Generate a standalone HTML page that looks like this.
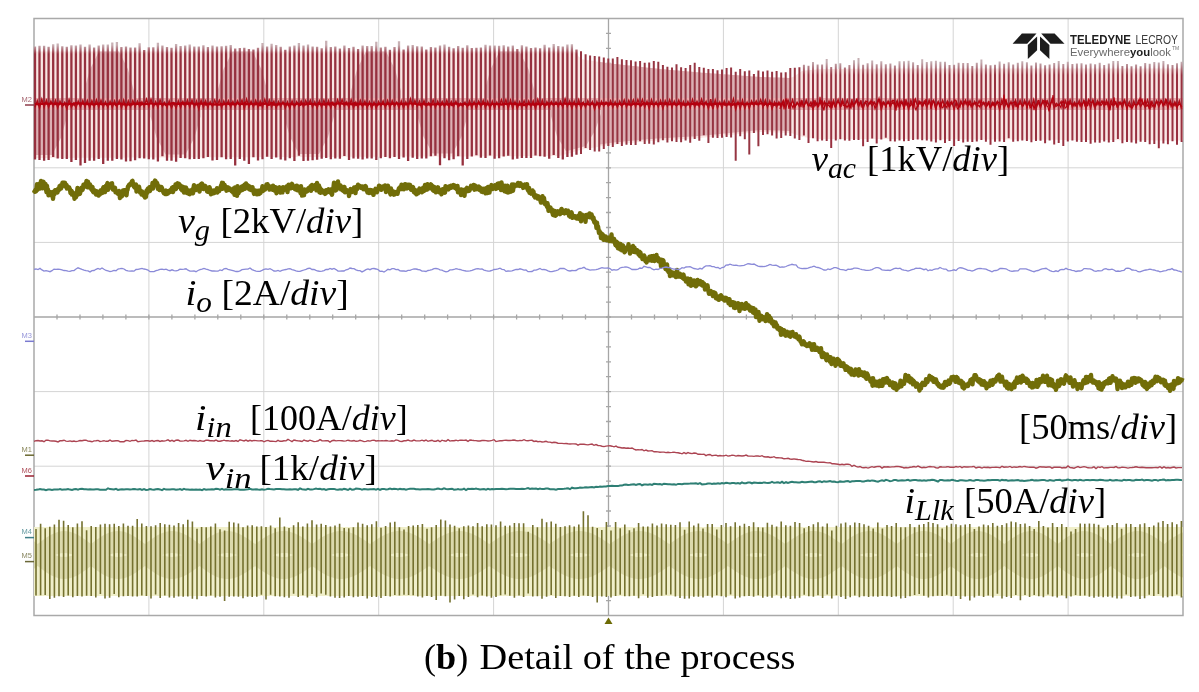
<!DOCTYPE html>
<html><head><meta charset="utf-8"><style>
html,body{margin:0;padding:0;background:#fff;width:1199px;height:692px;overflow:hidden;}
.l{position:absolute;font-family:"Liberation Serif",serif;color:#111;white-space:nowrap;line-height:1;}
.l i{font-style:italic;}
.l sub{font-style:italic;font-size:0.78em;vertical-align:baseline;position:relative;}
</style></head><body>
<svg width="1199" height="692" viewBox="0 0 1199 692" style="position:absolute;left:0;top:0;will-change:transform"><g stroke="#d4d4d4" stroke-width="1"><line x1="148.9" y1="18.5" x2="148.9" y2="615.5"/><line x1="263.8" y1="18.5" x2="263.8" y2="615.5"/><line x1="378.7" y1="18.5" x2="378.7" y2="615.5"/><line x1="493.6" y1="18.5" x2="493.6" y2="615.5"/><line x1="723.4" y1="18.5" x2="723.4" y2="615.5"/><line x1="838.3" y1="18.5" x2="838.3" y2="615.5"/><line x1="953.2" y1="18.5" x2="953.2" y2="615.5"/><line x1="1068.1" y1="18.5" x2="1068.1" y2="615.5"/><line x1="34.0" y1="93.1" x2="1183.0" y2="93.1"/><line x1="34.0" y1="167.8" x2="1183.0" y2="167.8"/><line x1="34.0" y1="242.4" x2="1183.0" y2="242.4"/><line x1="34.0" y1="391.6" x2="1183.0" y2="391.6"/><line x1="34.0" y1="466.2" x2="1183.0" y2="466.2"/><line x1="34.0" y1="540.9" x2="1183.0" y2="540.9"/></g><g stroke="#a6a6a6" stroke-width="1.3"><line x1="608.5" y1="18.5" x2="608.5" y2="615.5"/><line x1="34.0" y1="317.0" x2="1183.0" y2="317.0"/><path d="M606.0 33.4h5M606.0 48.4h5M606.0 63.3h5M606.0 78.2h5M606.0 93.1h5M606.0 108.1h5M606.0 123.0h5M606.0 137.9h5M606.0 152.8h5M606.0 167.8h5M606.0 182.7h5M606.0 197.6h5M606.0 212.5h5M606.0 227.5h5M606.0 242.4h5M606.0 257.3h5M606.0 272.2h5M606.0 287.2h5M606.0 302.1h5M606.0 317.0h5M606.0 331.9h5M606.0 346.9h5M606.0 361.8h5M606.0 376.7h5M606.0 391.6h5M606.0 406.6h5M606.0 421.5h5M606.0 436.4h5M606.0 451.3h5M606.0 466.2h5M606.0 481.2h5M606.0 496.1h5M606.0 511.0h5M606.0 526.0h5M606.0 540.9h5M606.0 555.8h5M606.0 570.7h5M606.0 585.6h5M606.0 600.6h5M57.0 314.5v5M80.0 314.5v5M102.9 314.5v5M125.9 314.5v5M148.9 314.5v5M171.9 314.5v5M194.9 314.5v5M217.8 314.5v5M240.8 314.5v5M263.8 314.5v5M286.8 314.5v5M309.8 314.5v5M332.7 314.5v5M355.7 314.5v5M378.7 314.5v5M401.7 314.5v5M424.7 314.5v5M447.6 314.5v5M470.6 314.5v5M493.6 314.5v5M516.6 314.5v5M539.6 314.5v5M562.5 314.5v5M585.5 314.5v5M608.5 314.5v5M631.5 314.5v5M654.5 314.5v5M677.4 314.5v5M700.4 314.5v5M723.4 314.5v5M746.4 314.5v5M769.4 314.5v5M792.3 314.5v5M815.3 314.5v5M838.3 314.5v5M861.3 314.5v5M884.3 314.5v5M907.2 314.5v5M930.2 314.5v5M953.2 314.5v5M976.2 314.5v5M999.2 314.5v5M1022.1 314.5v5M1045.1 314.5v5M1068.1 314.5v5M1091.1 314.5v5M1114.1 314.5v5M1137.0 314.5v5M1160.0 314.5v5"/></g><rect x="34.0" y="18.5" width="1149.0" height="597.0" fill="none" stroke="#a9a9a9" stroke-width="1.5"/><path fill="#f9e6e4" d="M34.0 51.5L38.0 51.5L42.0 51.5L46.0 51.5L50.0 51.5L54.0 51.5L58.0 51.5L62.0 51.5L66.0 51.5L70.0 51.5L74.0 51.5L78.0 51.5L82.0 51.5L86.0 51.5L90.0 51.5L94.0 51.5L98.0 51.5L102.0 51.5L106.0 51.5L110.0 51.5L114.0 51.5L118.0 51.5L122.0 51.5L126.0 51.5L130.0 51.5L134.0 51.5L138.0 51.5L142.0 51.5L146.0 51.5L150.0 51.5L154.0 51.5L158.0 51.5L162.0 51.5L166.0 51.5L170.0 51.5L174.0 51.5L178.0 51.5L182.0 51.5L186.0 51.5L190.0 51.5L194.0 51.5L198.0 51.5L202.0 51.5L206.0 51.5L210.0 51.5L214.0 51.5L218.0 51.5L222.0 51.5L226.0 51.5L230.0 51.5L234.0 51.5L238.0 51.5L242.0 51.5L246.0 51.5L250.0 51.5L254.0 51.5L258.0 51.5L262.0 51.5L266.0 51.5L270.0 51.5L274.0 51.5L278.0 51.5L282.0 51.5L286.0 51.5L290.0 51.5L294.0 51.5L298.0 51.5L302.0 51.5L306.0 51.5L310.0 51.5L314.0 51.5L318.0 51.5L322.0 51.5L326.0 51.5L330.0 51.5L334.0 51.5L338.0 51.5L342.0 51.5L346.0 51.5L350.0 51.5L354.0 51.5L358.0 51.5L362.0 51.5L366.0 51.5L370.0 51.5L374.0 51.5L378.0 51.5L382.0 51.5L386.0 51.5L390.0 51.5L394.0 51.5L398.0 51.5L402.0 51.5L406.0 51.5L410.0 51.5L414.0 51.5L418.0 51.5L422.0 51.5L426.0 51.5L430.0 51.5L434.0 51.5L438.0 51.5L442.0 51.5L446.0 51.5L450.0 51.5L454.0 51.5L458.0 51.5L462.0 51.5L466.0 51.5L470.0 51.5L474.0 51.5L478.0 51.5L482.0 51.5L486.0 51.5L490.0 51.5L494.0 51.5L498.0 51.5L502.0 51.5L506.0 51.5L510.0 51.5L514.0 51.5L518.0 51.5L522.0 51.5L526.0 51.5L530.0 51.5L534.0 51.5L538.0 51.5L542.0 51.5L546.0 51.5L550.0 51.5L554.0 51.5L558.0 51.5L562.0 51.5L566.0 51.5L570.0 51.5L574.0 51.5L578.0 56.0L582.0 59.3L586.0 59.9L590.0 60.5L594.0 61.1L598.0 61.7L602.0 62.3L606.0 62.9L610.0 63.4L614.0 63.9L618.0 64.3L622.0 64.8L626.0 65.2L630.0 65.6L634.0 66.1L638.0 66.5L642.0 67.0L646.0 67.4L650.0 67.9L654.0 68.3L658.0 68.8L662.0 69.2L666.0 69.5L670.0 69.9L674.0 70.2L678.0 70.6L682.0 70.9L686.0 71.3L690.0 71.6L694.0 72.0L698.0 72.3L702.0 72.7L706.0 73.0L710.0 73.2L714.0 73.5L718.0 73.8L722.0 74.2L726.0 74.5L730.0 74.8L734.0 75.0L738.0 75.3L742.0 75.7L746.0 76.0L750.0 76.2L754.0 76.5L758.0 76.8L762.0 77.1L766.0 77.2L770.0 77.3L774.0 77.4L778.0 77.6L782.0 77.7L786.0 77.8L790.0 77.9L794.0 76.6L798.0 73.8L802.0 71.0L806.0 70.6L810.0 70.1L814.0 69.7L818.0 69.2L822.0 69.0L826.0 69.0L830.0 68.9L834.0 68.9L838.0 68.9L842.0 68.9L846.0 68.8L850.0 68.8L854.0 68.8L858.0 68.8L862.0 68.7L866.0 68.7L870.0 68.7L874.0 68.7L878.0 68.6L882.0 68.6L886.0 68.6L890.0 68.6L894.0 68.5L898.0 68.5L902.0 68.5L906.0 68.5L910.0 68.5L914.0 68.5L918.0 68.5L922.0 68.5L926.0 68.5L930.0 68.5L934.0 68.5L938.0 68.5L942.0 68.5L946.0 68.5L950.0 68.5L954.0 68.5L958.0 68.5L962.0 68.5L966.0 68.5L970.0 68.5L974.0 68.5L978.0 68.5L982.0 68.5L986.0 68.5L990.0 68.5L994.0 68.5L998.0 68.5L1002.0 68.5L1006.0 68.5L1010.0 68.5L1014.0 68.5L1018.0 68.5L1022.0 68.5L1026.0 68.5L1030.0 68.5L1034.0 68.5L1038.0 68.5L1042.0 68.5L1046.0 68.5L1050.0 68.5L1054.0 68.5L1058.0 68.5L1062.0 68.5L1066.0 68.5L1070.0 68.5L1074.0 68.5L1078.0 68.5L1082.0 68.5L1086.0 68.5L1090.0 68.5L1094.0 68.5L1098.0 68.5L1102.0 68.5L1106.0 68.5L1110.0 68.5L1114.0 68.5L1118.0 68.5L1122.0 68.5L1126.0 68.5L1130.0 68.5L1134.0 68.5L1138.0 68.5L1142.0 68.5L1146.0 68.5L1150.0 68.5L1154.0 68.5L1158.0 68.5L1162.0 68.5L1166.0 68.5L1170.0 68.5L1174.0 68.5L1178.0 68.5L1182.0 68.5L1183.0 140.5L1179.0 140.5L1175.0 140.5L1171.0 140.4L1167.0 140.4L1163.0 140.4L1159.0 140.4L1155.0 140.4L1151.0 140.3L1147.0 140.3L1143.0 140.3L1139.0 140.3L1135.0 140.2L1131.0 140.2L1127.0 140.2L1123.0 140.2L1119.0 140.2L1115.0 140.1L1111.0 140.1L1107.0 140.1L1103.0 140.1L1099.0 140.1L1095.0 140.0L1091.0 140.0L1087.0 140.0L1083.0 140.0L1079.0 139.9L1075.0 139.9L1071.0 139.9L1067.0 139.9L1063.0 139.9L1059.0 139.8L1055.0 139.8L1051.0 139.8L1047.0 139.8L1043.0 139.8L1039.0 139.7L1035.0 139.7L1031.0 139.7L1027.0 139.7L1023.0 139.7L1019.0 139.6L1015.0 139.6L1011.0 139.6L1007.0 139.6L1003.0 139.5L999.0 139.5L995.0 139.5L991.0 139.5L987.0 139.5L983.0 139.4L979.0 139.4L975.0 139.4L971.0 139.4L967.0 139.4L963.0 139.3L959.0 139.3L955.0 139.3L951.0 139.3L947.0 139.2L943.0 139.2L939.0 139.2L935.0 139.2L931.0 139.2L927.0 139.1L923.0 139.1L919.0 139.1L915.0 139.1L911.0 139.1L907.0 139.0L903.0 139.0L899.0 139.0L895.0 139.0L891.0 139.0L887.0 139.0L883.0 139.0L879.0 139.0L875.0 139.0L871.0 139.0L867.0 139.0L863.0 139.0L859.0 139.0L855.0 139.0L851.0 139.0L847.0 139.0L843.0 139.0L839.0 139.0L835.0 139.0L831.0 139.0L827.0 139.0L823.0 139.0L819.0 138.9L815.0 138.4L811.0 138.0L807.0 137.6L803.0 137.1L799.0 135.8L795.0 134.2L791.0 133.0L787.0 132.8L783.0 132.7L779.0 132.6L775.0 132.5L771.0 132.3L767.0 132.2L763.0 132.1L759.0 132.1L755.0 132.5L751.0 132.9L747.0 133.3L743.0 133.7L739.0 134.1L735.0 134.5L731.0 134.9L727.0 135.3L723.0 135.7L719.0 136.1L715.0 136.5L711.0 136.9L707.0 137.3L703.0 137.7L699.0 138.1L695.0 138.3L691.0 138.5L687.0 138.8L683.0 139.0L679.0 139.3L675.0 139.5L671.0 139.7L667.0 140.0L663.0 140.2L659.0 140.5L655.0 140.7L651.0 140.9L647.0 141.3L643.0 141.7L639.0 142.1L635.0 142.5L631.0 142.9L627.0 143.2L623.0 143.6L619.0 144.0L615.0 144.4L611.0 144.8L607.0 145.3L603.0 146.0L599.0 146.7L595.0 147.4L591.0 148.1L587.0 148.8L583.0 149.5L579.0 150.3L575.0 151.5L571.0 152.7L567.0 153.9L563.0 155.1L559.0 156.0L555.0 156.0L551.0 156.0L547.0 156.0L543.0 156.1L539.0 156.1L535.0 156.1L531.0 156.1L527.0 156.1L523.0 156.1L519.0 156.2L515.0 156.2L511.0 156.2L507.0 156.2L503.0 156.2L499.0 156.2L495.0 156.2L491.0 156.3L487.0 156.3L483.0 156.3L479.0 156.3L475.0 156.3L471.0 156.3L467.0 156.4L463.0 156.4L459.0 156.4L455.0 156.4L451.0 156.4L447.0 156.4L443.0 156.4L439.0 156.5L435.0 156.5L431.0 156.5L427.0 156.5L423.0 156.5L419.0 156.5L415.0 156.6L411.0 156.6L407.0 156.6L403.0 156.6L399.0 156.6L395.0 156.6L391.0 156.6L387.0 156.7L383.0 156.7L379.0 156.7L375.0 156.7L371.0 156.7L367.0 156.7L363.0 156.7L359.0 156.8L355.0 156.8L351.0 156.8L347.0 156.8L343.0 156.8L339.0 156.8L335.0 156.9L331.0 156.9L327.0 156.9L323.0 156.9L319.0 156.9L315.0 156.9L311.0 156.9L307.0 157.0L303.0 157.0L299.0 157.0L295.0 157.0L291.0 157.0L287.0 157.0L283.0 157.1L279.0 157.1L275.0 157.1L271.0 157.1L267.0 157.1L263.0 157.1L259.0 157.1L255.0 157.2L251.0 157.2L247.0 157.2L243.0 157.2L239.0 157.2L235.0 157.2L231.0 157.3L227.0 157.3L223.0 157.3L219.0 157.3L215.0 157.3L211.0 157.3L207.0 157.3L203.0 157.4L199.0 157.4L195.0 157.4L191.0 157.4L187.0 157.4L183.0 157.4L179.0 157.4L175.0 157.5L171.0 157.5L167.0 157.5L163.0 157.5L159.0 157.5L155.0 157.5L151.0 157.6L147.0 157.6L143.0 157.6L139.0 157.6L135.0 157.6L131.0 157.6L127.0 157.6L123.0 157.7L119.0 157.7L115.0 157.7L111.0 157.7L107.0 157.7L103.0 157.7L99.0 157.8L95.0 157.8L91.0 157.8L87.0 157.8L83.0 157.8L79.0 157.8L75.0 157.8L71.0 157.9L67.0 157.9L63.0 157.9L59.0 157.9L55.0 157.9L51.0 157.9L47.0 158.0L43.0 158.0L39.0 158.0L35.0 158.0Z"/><path fill="#dcb0b4" d="M84.0 104L84.0 90.9L90.0 69.2L99.0 51.5L119.0 51.5L128.0 69.2L134.0 90.9L134.0 104ZM34.0 104L34.0 116.8L34.0 137.8L34.0 155.0L52.0 154.9L61.0 137.7L67.0 116.7L67.0 104ZM217.5 104L217.5 90.9L223.5 69.2L232.5 51.5L252.5 51.5L261.5 69.2L267.5 90.9L267.5 104ZM150.5 104L150.5 116.6L156.5 137.5L165.5 154.5L185.5 154.4L194.5 137.4L200.5 116.6L200.5 104ZM351.0 104L351.0 90.9L357.0 69.2L366.0 51.5L386.0 51.5L395.0 69.2L401.0 90.9L401.0 104ZM284.0 104L284.0 116.5L290.0 137.1L299.0 154.0L319.0 153.9L328.0 137.0L334.0 116.5L334.0 104ZM484.5 104L484.5 90.9L490.5 69.2L499.5 51.5L519.5 51.5L528.5 69.2L534.5 90.9L534.5 104ZM417.5 104L417.5 116.4L423.5 136.8L432.5 153.5L452.5 153.4L461.5 136.7L467.5 116.3L467.5 104ZM551.0 104L551.0 116.3L557.0 136.5L566.0 151.2L586.0 146.0L595.0 130.8L601.0 113.8L601.0 104ZM600.0 62.0L602.0 62.3L604.0 62.6L606.0 62.9L608.0 63.2L610.0 63.4L612.0 63.6L614.0 63.9L616.0 64.1L618.0 64.3L620.0 64.5L622.0 64.8L624.0 65.0L626.0 65.2L628.0 65.4L630.0 65.6L632.0 65.9L634.0 66.1L636.0 66.3L638.0 66.5L640.0 66.8L642.0 67.0L644.0 67.2L646.0 67.4L648.0 67.7L650.0 67.9L652.0 68.1L654.0 68.3L656.0 68.6L658.0 68.8L660.0 69.0L662.0 69.2L664.0 69.3L666.0 69.5L668.0 69.7L670.0 69.9L672.0 70.0L674.0 70.2L676.0 70.4L678.0 70.6L680.0 70.8L682.0 70.9L684.0 71.1L686.0 71.3L688.0 71.5L690.0 71.6L692.0 71.8L694.0 72.0L696.0 72.2L698.0 72.3L700.0 72.5L702.0 72.7L704.0 72.8L706.0 73.0L708.0 73.1L710.0 73.2L712.0 73.4L714.0 73.5L716.0 73.7L718.0 73.8L720.0 74.0L722.0 74.2L724.0 74.3L726.0 74.5L728.0 74.6L730.0 74.8L732.0 74.9L734.0 75.0L736.0 75.2L738.0 75.3L740.0 75.5L742.0 75.7L744.0 75.8L746.0 76.0L748.0 76.1L750.0 76.2L752.0 76.4L754.0 76.5L756.0 76.7L758.0 76.8L760.0 77.0L762.0 77.1L764.0 77.1L766.0 77.2L768.0 77.2L770.0 77.3L772.0 77.4L774.0 77.4L776.0 77.5L778.0 77.6L780.0 77.6L782.0 77.7L784.0 77.8L786.0 77.8L788.0 77.9L790.0 77.9L790.0 130.9L788.0 130.9L786.0 130.8L784.0 130.8L782.0 130.7L780.0 130.6L778.0 130.6L776.0 130.5L774.0 130.4L772.0 130.4L770.0 130.3L768.0 130.2L766.0 130.2L764.0 130.1L762.0 130.1L760.0 130.0L758.0 130.2L756.0 130.4L754.0 130.6L752.0 130.8L750.0 131.0L748.0 131.2L746.0 131.4L744.0 131.6L742.0 131.8L740.0 132.0L738.0 132.2L736.0 132.4L734.0 132.6L732.0 132.8L730.0 133.0L728.0 133.2L726.0 133.4L724.0 133.6L722.0 133.8L720.0 134.0L718.0 134.2L716.0 134.4L714.0 134.6L712.0 134.8L710.0 135.0L708.0 135.2L706.0 135.4L704.0 135.6L702.0 135.8L700.0 136.0L698.0 136.1L696.0 136.2L694.0 136.4L692.0 136.5L690.0 136.6L688.0 136.7L686.0 136.8L684.0 137.0L682.0 137.1L680.0 137.2L678.0 137.3L676.0 137.4L674.0 137.6L672.0 137.7L670.0 137.8L668.0 137.9L666.0 138.0L664.0 138.2L662.0 138.3L660.0 138.4L658.0 138.5L656.0 138.6L654.0 138.8L652.0 138.9L650.0 139.0L648.0 139.2L646.0 139.4L644.0 139.6L642.0 139.8L640.0 140.0L638.0 140.2L636.0 140.4L634.0 140.6L632.0 140.8L630.0 141.0L628.0 141.1L626.0 141.3L624.0 141.5L622.0 141.7L620.0 141.9L618.0 142.1L616.0 142.3L614.0 142.5L612.0 142.7L610.0 142.9L608.0 143.2L606.0 143.5L604.0 143.9L602.0 144.2L600.0 144.6Z"/><rect x="34.0" y="98" width="1149.0" height="12" fill="#eeb0b2"/><defs><linearGradient id="gl" gradientUnits="userSpaceOnUse" x1="0" y1="45" x2="0" y2="54"><stop offset="0" stop-color="#c8b0b4"/><stop offset="1" stop-color="#96303e"/></linearGradient><linearGradient id="gr" gradientUnits="userSpaceOnUse" x1="0" y1="62" x2="0" y2="75"><stop offset="0" stop-color="#c4aeb2"/><stop offset="1" stop-color="#98303f"/></linearGradient></defs><path stroke="url(#gl)" stroke-width="2.3" fill="none" d="M35.0 46.5V159.6M39.5 45.8V160.1M44.1 45.7V160.7M48.6 46.7V159.9M53.2 44.3V156.9M57.7 43.6V158.5M62.3 46.2V159.0M66.8 46.7V159.1M71.4 45.2V162.1M75.9 45.6V160.0M80.5 44.5V165.4M85.0 46.7V163.0M89.6 44.6V160.7M94.1 47.6V160.8M98.7 45.4V159.0M103.2 44.6V164.0M107.8 44.4V160.8M112.3 42.6V160.8M116.9 42.1V159.0M121.4 47.1V159.4M126.0 46.5V161.6M130.5 47.6V161.3M135.1 47.4V160.2M139.6 43.2V158.2M144.2 50.1V158.6M148.8 47.3V159.2M153.3 47.3V159.4M157.9 42.7V161.4M162.4 45.6V156.3M167.0 47.1V160.8M171.5 47.7V160.7M176.1 44.0V161.8M180.6 46.1V157.9M185.2 45.6V158.2M189.7 44.5V159.2M194.3 46.5V158.9M198.8 46.5V158.9M203.4 45.2V158.3M207.9 47.0V157.0M212.5 45.5V160.5M217.0 46.6V160.0M221.6 46.3V157.3M226.1 45.7V159.2M230.7 44.9V159.0M235.2 48.4V165.4M239.8 48.0V159.0M244.3 47.8V160.7M248.9 48.9V164.1M253.4 49.5V157.3M258.0 47.8V160.5M262.5 43.1V159.2M267.1 46.6V156.7M271.6 43.7V159.0M276.2 44.9V157.5M280.7 46.8V159.6M285.3 49.7V160.5M289.8 46.5V158.3M294.4 45.6V160.9M298.9 43.0V155.8M303.5 45.4V161.1M308.0 44.6V160.8M312.6 46.5V160.2M317.1 46.8V159.7M321.7 48.3V158.7M326.2 40.7V158.1M330.8 47.1V159.3M335.3 46.6V158.4M339.9 48.4V158.8M344.4 45.6V155.9M349.0 48.0V159.9M353.5 46.8V158.5M358.1 48.9V158.7M362.6 45.5V159.6M367.2 45.9V158.6M371.7 45.9V158.4M376.3 41.8V160.1M380.8 47.4V158.2M385.4 46.8V157.1M389.9 49.7V158.3M394.5 47.0V156.9M399.0 41.2V159.0M403.6 49.6V157.6M408.1 45.5V160.9M412.7 45.0V157.8M417.2 46.2V159.0M421.8 46.4V158.4M426.3 49.5V158.6M430.9 47.1V156.2M435.4 47.6V155.7M440.0 45.4V165.2M444.5 44.6V158.2M449.1 46.7V160.2M453.6 48.2V159.2M458.2 45.9V156.3M462.7 47.8V165.6M467.3 45.2V159.0M471.8 48.1V156.4M476.4 47.8V155.3M480.9 47.5V157.7M485.5 44.7V158.0M490.0 45.5V155.6M494.6 45.4V158.8M499.1 45.7V158.2M503.7 45.2V156.6M508.2 46.4V155.7M512.8 45.5V159.5M517.3 48.9V158.8M521.9 45.3V157.9M526.4 46.4V158.0M531.0 48.0V158.0M535.5 47.5V155.5M540.1 48.3V156.3M544.6 44.7V156.8M549.2 47.4V158.7M553.7 43.9V155.1M558.3 46.0V158.0M562.8 46.6V159.5M567.4 44.4V157.1M571.9 44.3V156.7M576.5 49.5V154.7"/><path stroke="#963542" stroke-width="2.0" fill="none" d="M581.0 51.2V154.0M585.6 54.2V148.0M590.1 55.4V150.1M594.7 56.1V151.5M599.2 56.6V151.6M603.8 57.4V148.9M608.3 58.6V146.0M612.8 58.4V147.0M617.4 57.1V144.0M621.9 59.3V145.9M626.5 60.0V144.7M631.0 60.3V145.0M635.6 61.6V145.1M640.1 61.1V141.3M644.7 62.7V144.1M649.2 62.4V143.8M653.8 60.9V144.6M658.3 61.8V142.3M662.9 64.9V140.2M667.4 66.7V142.4M672.0 67.6V141.3M676.5 64.3V142.0M681.1 67.3V142.3M685.6 68.0V140.4M690.2 65.0V142.8M694.7 62.8V138.9M699.3 66.9V140.7M703.8 67.8V135.2M708.4 69.0V143.1M712.9 69.0V137.8M717.5 70.3V138.0M722.0 69.5V137.7M726.6 67.9V137.0M731.1 67.4V137.4M735.7 71.8V160.7M740.2 69.1V136.3M744.8 71.3V139.3M749.3 70.5V154.5M753.9 74.0V133.0M758.4 70.6V146.3M763.0 71.6V134.9M767.5 70.6V134.2M772.1 71.8V135.5M776.6 70.9V138.6M781.2 72.5V138.0M785.7 72.2V135.6M790.3 67.9V135.9M794.8 67.8V138.6M799.4 67.3V139.9"/><path stroke="url(#gr)" stroke-width="2.0" fill="none" d="M803.9 64.8V135.5M808.5 65.7V142.9M813.0 61.9V138.3M817.6 64.4V141.3M822.1 64.5V140.5M826.7 58.9V141.0M831.2 67.1V147.9M835.8 63.8V140.5M840.3 63.2V139.3M844.9 67.5V140.6M849.4 64.9V140.7M854.0 60.3V139.9M858.5 58.0V139.9M863.1 64.8V146.2M867.6 63.2V141.9M872.2 60.4V138.6M876.7 64.2V143.5M881.3 61.2V139.5M885.8 64.3V137.8M890.4 63.4V141.3M894.9 65.5V141.6M899.5 61.2V140.6M904.0 61.3V141.2M908.6 60.8V140.9M913.1 62.3V139.9M917.7 65.1V139.5M922.2 59.3V140.3M926.8 61.9V140.4M931.3 61.2V141.4M935.9 60.7V142.5M940.4 61.8V140.3M945.0 61.7V143.1M949.5 65.0V141.0M954.1 64.7V146.0M958.6 62.7V140.9M963.2 62.9V142.6M967.7 63.0V141.8M972.3 66.1V142.1M976.8 62.8V141.5M981.4 59.5V139.9M985.9 64.6V141.7M990.5 65.3V144.7M995.0 64.7V141.7M999.6 61.4V141.4M1004.1 63.8V142.0M1008.7 62.3V138.2M1013.2 64.6V141.7M1017.8 62.8V141.3M1022.3 61.3V140.6M1026.9 62.3V141.1M1031.4 65.4V142.3M1036.0 62.4V140.9M1040.5 63.6V140.8M1045.1 65.3V143.2M1049.6 64.4V140.5M1054.2 63.0V144.5M1058.7 61.0V143.0M1063.3 64.0V146.0M1067.8 61.8V141.5M1072.4 64.1V140.5M1076.9 63.5V141.7M1081.5 63.3V142.0M1086.0 64.4V142.1M1090.6 63.6V143.7M1095.1 64.2V142.6M1099.7 62.8V142.7M1104.2 65.0V141.5M1108.8 63.6V142.6M1113.3 61.0V142.1M1117.9 61.0V138.9M1122.4 66.0V143.2M1127.0 64.0V142.1M1131.5 66.3V142.4M1136.1 64.4V143.6M1140.6 66.3V141.8M1145.2 62.9V141.9M1149.7 63.7V144.2M1154.3 62.1V144.0M1158.8 62.4V148.2M1163.4 61.0V143.6M1167.9 64.3V144.3M1172.5 64.9V141.3M1177.0 63.3V144.8M1181.6 61.7V142.1"/><path stroke="#b00c18" stroke-width="1.5" fill="none" d="M35.0 107.2L37.3 100.8L39.5 107.9L41.8 99.3L44.1 107.0L46.4 100.4L48.6 107.1L50.9 101.2L53.2 106.3L55.5 100.5L57.7 107.6L60.0 101.3L62.3 106.5L64.6 102.6L66.8 108.8L69.1 99.8L71.4 107.2L73.7 103.0L76.0 107.6L78.2 101.2L80.5 106.8L82.8 100.6L85.1 106.8L87.3 100.6L89.6 107.6L91.9 100.7L94.2 106.6L96.4 100.0L98.7 107.0L101.0 100.3L103.3 106.9L105.5 101.8L107.8 107.3L110.1 101.4L112.4 107.3L114.6 101.0L116.9 106.9L119.2 100.8L121.5 107.6L123.7 100.1L126.0 108.1L128.3 101.0L130.6 106.4L132.8 100.6L135.1 106.5L137.4 101.1L139.7 106.4L141.9 101.9L144.2 106.4L146.5 99.2L148.8 106.4L151.0 99.4L153.3 107.0L155.6 101.8L157.9 107.5L160.1 99.9L162.4 106.4L164.7 102.4L167.0 107.3L169.2 101.0L171.5 107.8L173.8 103.0L176.1 108.0L178.3 101.1L180.6 107.3L182.9 101.5L185.2 106.5L187.4 100.2L189.7 107.0L192.0 100.2L194.3 107.0L196.5 101.1L198.8 108.9L201.1 100.3L203.4 106.9L205.6 100.9L207.9 107.3L210.2 101.8L212.5 106.6L214.7 100.3L217.0 105.7L219.3 100.3L221.6 107.4L223.8 101.0L226.1 106.2L228.4 100.7L230.7 107.0L232.9 101.4L235.2 106.5L237.5 100.8L239.8 105.5L242.0 100.1L244.3 108.3L246.6 99.2L248.9 106.7L251.1 101.2L253.4 106.7L255.7 100.4L258.0 107.0L260.2 101.0L262.5 106.9L264.8 99.5L267.1 106.9L269.3 100.3L271.6 106.6L273.9 101.2L276.2 107.5L278.4 101.7L280.7 106.6L283.0 101.7L285.3 107.9L287.5 101.9L289.8 108.1L292.1 100.9L294.4 106.9L296.6 101.7L298.9 105.9L301.2 101.2L303.4 106.6L305.7 100.7L308.0 105.6L310.3 100.3L312.5 107.0L314.8 101.7L317.1 107.8L319.4 100.9L321.6 106.8L323.9 100.3L326.2 107.3L328.5 100.8L330.7 107.5L333.0 102.4L335.3 107.0L337.6 99.8L339.8 106.3L342.1 99.8L344.4 106.0L346.7 102.0L348.9 107.2L351.2 99.8L353.5 107.5L355.8 102.0L358.0 106.7L360.3 100.5L362.6 106.7L364.9 101.2L367.1 107.5L369.4 101.9L371.7 108.0L374.0 101.9L376.2 108.1L378.5 101.5L380.8 105.8L383.1 100.9L385.3 107.3L387.6 100.7L389.9 107.7L392.2 100.7L394.4 106.3L396.7 102.2L399.0 107.5L401.3 101.2L403.5 107.7L405.8 101.9L408.1 107.3L410.4 99.0L412.6 106.5L414.9 100.6L417.2 106.2L419.5 101.2L421.7 108.0L424.0 100.6L426.3 106.1L428.6 102.6L430.8 106.6L433.1 100.0L435.4 107.2L437.7 101.3L439.9 106.4L442.2 101.6L444.5 106.6L446.8 100.3L449.0 107.1L451.3 101.6L453.6 106.5L455.9 101.3L458.1 106.9L460.4 103.3L462.7 106.4L465.0 102.1L467.2 107.0L469.5 100.9L471.8 107.6L474.1 101.7L476.3 108.0L478.6 101.3L480.9 106.5L483.2 100.6L485.4 107.4L487.7 101.5L490.0 108.1L492.3 101.3L494.5 107.8L496.8 102.2L499.1 107.1L501.4 99.8L503.6 106.1L505.9 99.8L508.2 108.3L510.5 100.3L512.7 108.0L515.0 101.5L517.3 108.4L519.6 101.8L521.8 106.9L524.1 100.8L526.4 107.1L528.7 101.1L530.9 106.6L533.2 101.0L535.5 108.3L537.8 99.6L540.0 107.2L542.3 100.3L544.6 107.1L546.9 101.7L549.1 107.0L551.4 101.6L553.7 105.7L556.0 101.9L558.2 106.5L560.5 101.5L562.8 107.1L565.1 98.9L567.3 106.4L569.6 101.2L571.9 108.2L574.2 101.2L576.4 107.2L578.7 99.9L581.0 108.1L583.3 102.4L585.5 107.0L587.8 100.8L590.1 105.7L592.4 101.7L594.6 109.2L596.9 101.6L599.2 108.0L601.5 101.4L603.7 106.2L606.0 102.1L608.3 106.0L610.6 100.8L612.8 107.2L615.1 101.7L617.4 107.3L619.7 101.3L621.9 106.4L624.2 100.0L626.5 107.0L628.8 100.4L631.0 106.0L633.3 100.0L635.6 106.6L637.9 99.5L640.1 105.9L642.4 99.7L644.7 107.1L647.0 101.3L649.2 108.6L651.5 99.8L653.8 106.5L656.1 101.7L658.3 106.8L660.6 100.7L662.9 108.4L665.2 100.7L667.4 106.1L669.7 99.9L672.0 107.3L674.3 101.2L676.5 105.9L678.8 100.2L681.1 107.4L683.4 101.5L685.6 106.5L687.9 101.5L690.2 107.5L692.5 99.6L694.7 106.8L697.0 101.3L699.3 106.5L701.6 99.3L703.8 106.8L706.1 101.6L708.4 108.3L710.7 99.2L712.9 109.1L715.2 100.1L717.5 107.8L719.8 102.0L722.0 107.8L724.3 101.1L726.6 106.1L728.9 101.5L731.1 106.4L733.4 99.0L735.7 109.3L738.0 101.6L740.2 108.5L742.5 100.3L744.8 108.2L747.1 102.3L749.3 108.2L751.6 101.0L753.9 106.0L756.2 100.9L758.4 105.2L760.7 99.6L763.0 107.1L765.3 100.2L767.5 106.9L769.8 100.9L772.1 108.5L774.4 102.0L776.6 107.0L778.9 102.0L781.2 106.4L783.5 100.7L785.7 107.7L788.0 100.0L790.3 106.8L792.6 99.9L794.8 107.1L797.1 102.3L799.4 106.4L801.7 101.2L803.9 106.3L806.2 100.1L808.5 106.0L810.8 102.2L813.0 108.9L815.3 101.4L817.6 106.4L819.9 101.6L822.1 106.7L824.4 101.6L826.7 107.2L829.0 101.2L831.2 107.5L833.5 100.5L835.8 106.7L838.1 99.6L840.3 106.6L842.6 99.9L844.9 106.9L847.2 100.2L849.4 107.1L851.7 101.4L854.0 105.9L856.3 100.3L858.5 106.2L860.8 101.6L863.1 108.4L865.4 101.7L867.6 106.7L869.9 102.2L872.2 105.8L874.5 102.2L876.7 106.5L879.0 98.8L881.3 109.1L883.6 102.3L885.8 106.2L888.1 101.1L890.4 106.8L892.7 101.1L894.9 105.8L897.2 100.5L899.5 107.4L901.8 101.2L904.0 108.0L906.3 101.1L908.6 108.9L910.9 100.4L913.1 107.2L915.4 99.5L917.7 106.0L920.0 102.1L922.2 106.2L924.5 101.4L926.8 107.0L929.1 100.2L931.3 106.7L933.6 100.6L935.9 106.6L938.2 101.6L940.4 107.5L942.7 100.5L945.0 106.3L947.3 101.2L949.5 106.9L951.8 101.8L954.1 109.1L956.4 101.7L958.6 107.0L960.9 100.9L963.2 106.3L965.5 100.3L967.7 106.2L970.0 100.7L972.3 106.7L974.6 101.6L976.8 106.7L979.1 100.8L981.4 106.0L983.7 102.3L985.9 107.4L988.2 102.4L990.5 107.6L992.8 102.2L995.0 106.8L997.3 101.6L999.6 109.2L1001.9 100.0L1004.1 107.9L1006.4 102.4L1008.7 107.3L1011.0 101.6L1013.2 108.0L1015.5 100.5L1017.8 107.3L1020.1 100.3L1022.3 106.4L1024.6 100.5L1026.9 106.9L1029.2 101.1L1031.4 107.4L1033.7 99.8L1036.0 108.6L1038.3 101.9L1040.5 107.6L1042.8 100.7L1045.1 106.9L1047.4 101.4L1049.6 107.3L1051.9 99.6L1054.2 107.6L1056.5 103.4L1058.7 105.5L1061.0 101.8L1063.3 107.3L1065.6 100.9L1067.8 108.1L1070.1 100.0L1072.4 107.1L1074.7 102.2L1076.9 106.8L1079.2 100.7L1081.5 107.1L1083.8 100.6L1086.0 108.3L1088.3 100.3L1090.6 107.7L1092.9 100.0L1095.1 107.6L1097.4 100.9L1099.7 104.9L1102.0 101.0L1104.2 106.1L1106.5 100.6L1108.8 108.3L1111.1 100.1L1113.3 106.1L1115.6 102.2L1117.9 107.1L1120.2 102.3L1122.4 107.3L1124.7 100.3L1127.0 106.9L1129.3 102.0L1131.5 107.8L1133.8 101.0L1136.1 107.0L1138.4 100.9L1140.6 106.5L1142.9 102.6L1145.2 107.0L1147.5 100.1L1149.7 106.6L1152.0 101.6L1154.3 107.5L1156.6 100.9L1158.8 106.5L1161.1 101.0L1163.4 105.6L1165.7 99.9L1167.9 107.7L1170.2 100.6L1172.5 107.3L1174.8 102.0L1177.0 107.5L1179.3 101.0L1181.6 108.8"/><path stroke="#b4000e" stroke-width="2.2" fill="none" d="M35.0 104.3L36.5 103.8L38.0 104.4L39.5 104.2L41.0 103.6L42.5 104.0L44.0 103.9L45.5 103.0L47.0 103.9L48.5 103.9L50.0 103.8L51.5 103.2L53.0 103.8L54.5 104.0L56.0 104.1L57.5 103.4L59.0 104.3L60.5 103.4L62.0 103.9L63.5 104.7L65.0 103.6L66.5 103.7L68.0 104.6L69.5 103.8L71.0 103.8L72.5 104.1L74.0 104.5L75.5 102.9L77.0 103.6L78.5 103.5L80.0 103.4L81.5 103.6L83.0 103.6L84.5 104.2L86.0 103.5L87.5 104.1L89.0 104.2L90.5 103.6L92.0 104.1L93.5 104.8L95.0 104.2L96.5 103.7L98.0 104.0L99.5 103.5L101.0 104.1L102.5 104.4L104.0 103.6L105.5 103.9L107.0 104.6L108.5 103.7L110.0 104.1L111.5 103.5L113.0 103.6L114.5 103.7L116.0 105.1L117.5 103.8L119.0 103.7L120.5 103.7L122.0 103.9L123.5 104.3L125.0 104.1L126.5 105.0L128.0 104.1L129.5 104.7L131.0 104.1L132.5 104.3L134.0 103.3L135.5 103.9L137.0 104.0L138.5 103.9L140.0 102.9L141.5 104.4L143.0 103.8L144.5 103.8L146.0 103.9L147.5 103.9L149.0 104.2L150.5 103.4L152.0 103.5L153.5 104.1L155.0 104.1L156.5 103.8L158.0 103.7L159.5 103.6L161.0 104.0L162.5 104.6L164.0 103.5L165.5 104.8L167.0 104.4L168.5 103.8L170.0 104.4L171.5 103.3L173.0 103.1L174.5 103.4L176.0 103.8L177.5 103.8L179.0 103.7L180.5 104.0L182.0 102.9L183.5 104.2L185.0 103.3L186.5 103.7L188.0 103.8L189.5 103.4L191.0 103.3L192.5 103.5L194.0 104.0L195.5 104.3L197.0 104.3L198.5 103.5L200.0 103.6L201.5 103.5L203.0 104.2L204.5 103.0L206.0 104.6L207.5 103.8L209.0 103.6L210.5 104.2L212.0 104.5L213.5 104.2L215.0 104.5L216.5 104.1L218.0 104.6L219.5 104.6L221.0 104.0L222.5 104.7L224.0 104.1L225.5 104.0L227.0 103.5L228.5 103.9L230.0 104.4L231.5 103.3L233.0 104.3L234.5 104.2L236.0 104.1L237.5 102.9L239.0 103.9L240.5 104.3L242.0 103.6L243.5 104.0L245.0 102.8L246.5 104.3L248.0 103.7L249.5 104.4L251.0 103.1L252.5 104.3L254.0 103.9L255.5 104.4L257.0 103.5L258.5 103.7L260.0 105.1L261.5 103.6L263.0 103.6L264.5 103.9L266.0 103.5L267.5 104.6L269.0 104.9L270.5 103.6L272.0 103.1L273.5 104.6L275.0 104.6L276.5 104.4L278.0 104.6L279.5 103.6L281.0 103.9L282.5 103.3L284.0 103.3L285.5 104.5L287.0 103.7L288.5 105.1L290.0 104.0L291.5 103.7L293.0 104.4L294.5 104.9L296.0 104.2L297.5 103.4L299.0 104.2L300.5 104.7L302.0 103.8L303.5 103.6L305.0 104.5L306.5 104.1L308.0 103.4L309.5 103.8L311.0 103.6L312.5 104.1L314.0 104.1L315.5 104.6L317.0 104.4L318.5 103.2L320.0 104.2L321.5 104.4L323.0 104.2L324.5 104.5L326.0 103.7L327.5 103.5L329.0 104.5L330.5 103.5L332.0 102.9L333.5 104.5L335.0 103.6L336.5 103.8L338.0 103.3L339.5 103.3L341.0 103.4L342.5 103.8L344.0 104.2L345.5 102.9L347.0 104.4L348.5 103.4L350.0 103.5L351.5 104.3L353.0 104.0L354.5 103.2L356.0 104.9L357.5 103.6L359.0 104.1L360.5 104.1L362.0 104.7L363.5 103.8L365.0 104.5L366.5 103.6L368.0 104.6L369.5 103.6L371.0 103.8L372.5 104.9L374.0 104.2L375.5 104.1L377.0 105.1L378.5 104.2L380.0 103.6L381.5 104.4L383.0 103.4L384.5 104.6L386.0 104.6L387.5 103.7L389.0 103.7L390.5 104.1L392.0 104.0L393.5 103.5L395.0 104.3L396.5 103.0L398.0 103.8L399.5 103.8L401.0 103.9L402.5 104.2L404.0 103.4L405.5 104.3L407.0 103.9L408.5 103.7L410.0 103.3L411.5 103.4L413.0 104.2L414.5 103.5L416.0 104.0L417.5 104.5L419.0 104.5L420.5 104.8L422.0 103.9L423.5 103.5L425.0 104.5L426.5 104.2L428.0 104.6L429.5 104.0L431.0 104.6L432.5 104.4L434.0 104.4L435.5 104.3L437.0 104.2L438.5 104.1L440.0 104.1L441.5 104.5L443.0 103.7L444.5 104.9L446.0 103.9L447.5 104.5L449.0 104.0L450.5 103.9L452.0 105.0L453.5 103.8L455.0 103.4L456.5 103.6L458.0 103.8L459.5 105.1L461.0 104.1L462.5 104.5L464.0 103.5L465.5 104.2L467.0 104.3L468.5 104.9L470.0 103.7L471.5 104.3L473.0 104.2L474.5 103.5L476.0 104.0L477.5 103.9L479.0 102.8L480.5 104.3L482.0 104.3L483.5 103.8L485.0 103.3L486.5 104.7L488.0 104.1L489.5 104.5L491.0 104.7L492.5 103.7L494.0 104.4L495.5 103.9L497.0 104.0L498.5 104.0L500.0 104.0L501.5 104.6L503.0 104.1L504.5 103.9L506.0 103.9L507.5 104.2L509.0 103.6L510.5 103.7L512.0 104.0L513.5 103.7L515.0 103.9L516.5 103.7L518.0 105.0L519.5 104.7L521.0 104.2L522.5 104.0L524.0 105.1L525.5 104.2L527.0 104.0L528.5 104.2L530.0 104.2L531.5 104.7L533.0 104.0L534.5 105.0L536.0 103.6L537.5 104.3L539.0 103.5L540.5 104.9L542.0 103.8L543.5 104.0L545.0 104.5L546.5 104.6L548.0 103.4L549.5 103.8L551.0 103.3L552.5 104.1L554.0 103.9L555.5 103.8L557.0 103.7L558.5 103.8L560.0 103.6L561.5 104.3L563.0 104.8L564.5 103.0L566.0 103.9L567.5 103.8L569.0 104.2L570.5 103.5L572.0 103.9L573.5 103.5L575.0 104.3L576.5 104.0L578.0 103.9L579.5 104.2L581.0 103.9L582.5 103.2L584.0 104.3L585.5 104.1L587.0 103.9L588.5 104.5L590.0 104.6L591.5 103.5L593.0 103.6L594.5 104.8L596.0 104.7L597.5 103.6L599.0 103.4L600.5 103.7L602.0 103.8L603.5 103.2L605.0 104.0L606.5 103.4L608.0 103.4L609.5 104.5L611.0 103.7L612.5 104.0L614.0 104.3L615.5 104.4L617.0 103.8L618.5 104.0L620.0 103.6L621.5 104.9L623.0 104.3L624.5 103.4L626.0 104.0L627.5 104.4L629.0 104.2L630.5 104.9L632.0 104.7L633.5 103.7L635.0 104.0L636.5 103.4L638.0 104.1L639.5 104.1L641.0 105.4L642.5 104.0L644.0 103.0L645.5 103.7L647.0 104.1L648.5 103.4L650.0 103.6L651.5 103.8L653.0 104.2L654.5 103.9L656.0 103.6L657.5 104.4L659.0 103.7L660.5 103.8L662.0 103.3L663.5 103.6L665.0 104.3L666.5 103.2L668.0 104.0L669.5 104.4L671.0 103.8L672.5 104.1L674.0 103.4L675.5 104.7L677.0 104.6L678.5 104.1L680.0 103.1L681.5 103.5L683.0 104.5L684.5 104.9L686.0 104.1L687.5 104.6L689.0 103.7L690.5 103.9L692.0 104.0L693.5 104.2L695.0 103.2L696.5 104.5L698.0 104.7L699.5 103.4L701.0 103.3L702.5 104.2L704.0 103.7L705.5 102.8L707.0 104.4L708.5 104.1L710.0 103.8L711.5 105.1L713.0 104.1L714.5 103.6L716.0 104.1L717.5 103.5L719.0 103.6L720.5 104.2L722.0 103.7L723.5 103.8L725.0 104.8L726.5 104.4L728.0 104.4L729.5 104.3L731.0 104.2L732.5 104.7L734.0 104.0L735.5 104.9L737.0 103.5L738.5 103.9L740.0 103.3L741.5 103.8L743.0 104.3L744.5 104.7L746.0 103.7L747.5 104.0L749.0 103.8L750.5 103.6L752.0 103.4L753.5 104.0L755.0 103.1L756.5 104.1L758.0 104.0L759.5 103.7L761.0 103.5L762.5 103.3L764.0 104.9L765.5 103.3L767.0 104.8L768.5 104.3L770.0 103.8L771.5 103.4L773.0 104.5L774.5 104.9L776.0 103.5L777.5 103.9L779.0 104.5L780.5 104.2"/><path stroke="#b4000e" stroke-width="1.1" fill="none" d="M780.0 109.2L781.0 102.5L782.0 105.4L783.0 100.7L784.0 109.4L785.0 102.1L786.0 98.3L787.0 103.7L788.0 103.6L789.0 109.0L790.0 103.1L791.0 104.0L792.0 105.5L793.0 108.1L794.0 103.8L795.0 106.7L796.0 105.3L797.0 103.2L798.0 104.2L799.0 104.1L800.0 101.6L801.0 107.2L802.0 100.4L803.0 107.0L804.0 106.5L805.0 103.8L806.0 102.0L807.0 103.4L808.0 105.2L809.0 105.9L810.0 104.7L811.0 106.6L812.0 102.6L813.0 104.6L814.0 99.9L815.0 106.0L816.0 104.4L817.0 102.9L818.0 107.0L819.0 105.8L820.0 96.7L821.0 104.1L822.0 100.2L823.0 106.8L824.0 110.5L825.0 102.7L826.0 104.2L827.0 103.3L828.0 104.9L829.0 105.7L830.0 107.3L831.0 101.4L832.0 108.1L833.0 101.6L834.0 104.7L835.0 107.0L836.0 105.9L837.0 101.6L838.0 102.2L839.0 102.8L840.0 103.9L841.0 107.0L842.0 100.6L843.0 105.2L844.0 105.6L845.0 105.5L846.0 105.2L847.0 107.9L848.0 105.3L849.0 106.2L850.0 105.5L851.0 108.7L852.0 99.1L853.0 107.3L854.0 103.3L855.0 103.3L856.0 101.5L857.0 99.1L858.0 103.0L859.0 102.2L860.0 105.3L861.0 100.2L862.0 107.7L863.0 104.7L864.0 103.4L865.0 102.2L866.0 102.0L867.0 101.1L868.0 102.6L869.0 104.0L870.0 103.5L871.0 100.3L872.0 103.3L873.0 101.7L874.0 104.4L875.0 108.8L876.0 105.6L877.0 103.2L878.0 99.8L879.0 100.3L880.0 99.6L881.0 105.9L882.0 102.0L883.0 104.2L884.0 102.4L885.0 104.2L886.0 107.6L887.0 102.2L888.0 103.1L889.0 101.9L890.0 106.3L891.0 101.3L892.0 101.1L893.0 100.4L894.0 100.3L895.0 105.2L896.0 110.7L897.0 101.4L898.0 106.5L899.0 104.7L900.0 101.1L901.0 103.3L902.0 103.4L903.0 102.2L904.0 109.0L905.0 99.0L906.0 105.0L907.0 104.9L908.0 102.5L909.0 104.4L910.0 106.3L911.0 104.4L912.0 105.1L913.0 105.8L914.0 98.7L915.0 107.8L916.0 109.9L917.0 106.6L918.0 106.6L919.0 100.3L920.0 103.7L921.0 101.9L922.0 102.5L923.0 106.5L924.0 101.9L925.0 103.7L926.0 99.0L927.0 103.6L928.0 104.2L929.0 102.2L930.0 102.1L931.0 108.9L932.0 100.9L933.0 101.3L934.0 101.9L935.0 107.1L936.0 109.5L937.0 104.9L938.0 102.1L939.0 102.9L940.0 106.8L941.0 101.6L942.0 107.8L943.0 107.7L944.0 104.2L945.0 105.7L946.0 105.9L947.0 108.0L948.0 101.3L949.0 107.1L950.0 103.0L951.0 102.0L952.0 104.3L953.0 103.4L954.0 101.4L955.0 99.8L956.0 101.6L957.0 107.8L958.0 109.1L959.0 105.7L960.0 107.1L961.0 102.7L962.0 103.8L963.0 104.7L964.0 101.2L965.0 101.4L966.0 104.3L967.0 103.2L968.0 101.2L969.0 105.0L970.0 103.3L971.0 106.7L972.0 104.0L973.0 103.2L974.0 104.3L975.0 103.6L976.0 102.3L977.0 103.0L978.0 105.9L979.0 105.7L980.0 107.3L981.0 99.6L982.0 103.0L983.0 102.9L984.0 104.4L985.0 102.8L986.0 102.7L987.0 106.0L988.0 104.5L989.0 101.0L990.0 107.5L991.0 106.6L992.0 102.5L993.0 106.2L994.0 102.1L995.0 106.9L996.0 103.4L997.0 101.9L998.0 103.0L999.0 102.0L1000.0 104.5L1001.0 104.5L1002.0 104.1L1003.0 102.6L1004.0 94.5L1005.0 104.2L1006.0 99.1L1007.0 104.6L1008.0 106.9L1009.0 104.7L1010.0 103.0L1011.0 103.5L1012.0 103.7L1013.0 102.6L1014.0 102.5L1015.0 101.6L1016.0 107.1L1017.0 104.0L1018.0 106.5L1019.0 103.3L1020.0 104.2L1021.0 103.6L1022.0 105.2L1023.0 106.1L1024.0 104.6L1025.0 102.2L1026.0 102.0L1027.0 108.3L1028.0 103.3L1029.0 103.2L1030.0 107.8L1031.0 106.8L1032.0 105.4L1033.0 103.0L1034.0 110.1L1035.0 105.0L1036.0 105.4L1037.0 103.6L1038.0 100.3L1039.0 100.5L1040.0 105.1L1041.0 105.0L1042.0 103.4L1043.0 101.0L1044.0 100.3L1045.0 103.1L1046.0 100.2L1047.0 106.3L1048.0 107.0L1049.0 111.4L1050.0 106.3L1051.0 102.5L1052.0 101.7L1053.0 95.0L1054.0 102.5L1055.0 103.5L1056.0 106.5L1057.0 105.6L1058.0 105.5L1059.0 104.6L1060.0 105.7L1061.0 107.8L1062.0 101.2L1063.0 102.8L1064.0 100.4L1065.0 108.2L1066.0 107.4L1067.0 106.0L1068.0 100.9L1069.0 104.4L1070.0 103.4L1071.0 104.2L1072.0 103.5L1073.0 105.4L1074.0 103.0L1075.0 106.2L1076.0 104.6L1077.0 103.2L1078.0 103.7L1079.0 102.9L1080.0 106.1L1081.0 103.3L1082.0 104.8L1083.0 103.0L1084.0 100.1L1085.0 106.4L1086.0 101.2L1087.0 105.8L1088.0 105.1L1089.0 99.7L1090.0 101.5L1091.0 102.7L1092.0 101.9L1093.0 100.9L1094.0 105.9L1095.0 103.4L1096.0 105.0L1097.0 102.9L1098.0 104.8L1099.0 102.0L1100.0 103.9L1101.0 105.5L1102.0 104.1L1103.0 102.8L1104.0 101.2L1105.0 104.4L1106.0 104.9L1107.0 103.3L1108.0 102.0L1109.0 105.4L1110.0 110.5L1111.0 103.2L1112.0 104.9L1113.0 105.0L1114.0 97.3L1115.0 104.3L1116.0 102.2L1117.0 107.6L1118.0 103.3L1119.0 102.0L1120.0 103.4L1121.0 104.4L1122.0 102.5L1123.0 103.9L1124.0 100.5L1125.0 103.4L1126.0 106.0L1127.0 109.1L1128.0 105.8L1129.0 104.7L1130.0 107.1L1131.0 106.6L1132.0 108.3L1133.0 106.8L1134.0 103.7L1135.0 104.7L1136.0 104.5L1137.0 104.8L1138.0 104.5L1139.0 102.0L1140.0 98.5L1141.0 102.3L1142.0 98.7L1143.0 104.2L1144.0 104.0L1145.0 99.6L1146.0 105.8L1147.0 106.3L1148.0 104.2L1149.0 108.3L1150.0 108.9L1151.0 100.9L1152.0 106.7L1153.0 105.1L1154.0 105.1L1155.0 106.4L1156.0 102.1L1157.0 102.5L1158.0 101.9L1159.0 102.0L1160.0 103.7L1161.0 100.2L1162.0 101.3L1163.0 105.5L1164.0 103.8L1165.0 105.0L1166.0 99.1L1167.0 102.0L1168.0 102.6L1169.0 104.1L1170.0 102.5L1171.0 106.4L1172.0 103.8L1173.0 104.0L1174.0 104.0L1175.0 105.8L1176.0 102.8L1177.0 106.9L1178.0 105.2L1179.0 104.4L1180.0 104.1L1181.0 105.4L1182.0 106.6"/><path stroke="#716d08" stroke-width="4.4" stroke-linejoin="round" fill="none" d="M34.0 192.9L34.5 191.3L35.0 191.7L35.5 189.8L36.0 191.3L36.5 188.5L37.0 184.3L37.5 189.9L38.0 187.2L38.5 184.3L39.0 185.6L39.5 183.8L40.0 188.6L40.5 185.2L41.0 181.0L41.5 184.7L42.0 183.5L42.5 188.2L43.0 183.4L43.5 181.8L44.0 186.4L44.5 186.2L45.0 186.6L45.5 184.0L46.0 189.2L46.5 192.0L47.0 186.0L47.5 192.1L48.0 189.5L48.5 195.3L49.0 192.4L49.5 191.8L50.0 194.6L50.5 194.1L51.0 192.6L51.5 195.5L52.0 193.8L52.5 192.0L53.0 198.8L53.5 194.0L54.0 193.0L54.5 194.2L55.0 190.2L55.5 190.1L56.0 191.1L56.5 190.5L57.0 191.1L57.5 192.4L58.0 189.0L58.5 190.2L59.0 189.9L59.5 186.3L60.0 188.2L60.5 185.5L61.0 188.6L61.5 187.0L62.0 185.7L62.5 182.7L63.0 184.8L63.5 182.7L64.0 184.8L64.5 183.6L65.0 182.9L65.5 186.6L66.0 186.7L66.5 184.9L67.0 188.6L67.5 186.5L68.0 187.0L68.5 188.3L69.0 187.2L69.5 188.3L70.0 189.4L70.5 192.9L71.0 193.4L71.5 190.8L72.0 194.6L72.5 192.2L73.0 193.5L73.5 194.9L74.0 194.4L74.5 198.7L75.0 195.3L75.5 193.3L76.0 197.2L76.5 193.6L77.0 193.3L77.5 187.9L78.0 194.6L78.5 193.7L79.0 193.2L79.5 193.0L80.0 193.7L80.5 190.1L81.0 191.3L81.5 187.8L82.0 187.9L82.5 189.9L83.0 188.2L83.5 184.6L84.0 187.1L84.5 185.6L85.0 183.9L85.5 185.7L86.0 183.6L86.5 181.0L87.0 181.5L87.5 187.2L88.0 181.8L88.5 185.5L89.0 186.7L89.5 187.3L90.0 184.5L90.5 186.6L91.0 188.0L91.5 189.7L92.0 187.6L92.5 187.2L93.0 191.6L93.5 192.3L94.0 191.5L94.5 190.3L95.0 192.6L95.5 192.6L96.0 194.5L96.5 191.2L97.0 194.2L97.5 194.3L98.0 193.1L98.5 195.6L99.0 194.7L99.5 193.4L100.0 194.3L100.5 190.5L101.0 192.4L101.5 192.8L102.0 192.0L102.5 192.9L103.0 188.3L103.5 187.2L104.0 189.8L104.5 189.7L105.0 192.1L105.5 188.9L106.0 185.7L106.5 188.2L107.0 184.7L107.5 183.0L108.0 189.8L108.5 185.2L109.0 185.4L109.5 184.6L110.0 186.9L110.5 184.7L111.0 186.9L111.5 183.4L112.0 183.3L112.5 188.9L113.0 189.5L113.5 188.3L114.0 188.3L114.5 188.7L115.0 187.7L115.5 192.2L116.0 191.2L116.5 191.4L117.0 191.7L117.5 193.4L118.0 193.0L118.5 193.9L119.0 191.0L119.5 194.6L120.0 198.1L120.5 193.8L121.0 195.0L121.5 196.5L122.0 196.1L122.5 195.0L123.0 190.4L123.5 193.7L124.0 190.1L124.5 190.3L125.0 192.2L125.5 190.2L126.0 191.6L126.5 195.3L127.0 190.5L127.5 189.9L128.0 186.4L128.5 186.4L129.0 185.1L129.5 185.5L130.0 184.0L130.5 184.2L131.0 184.5L131.5 182.6L132.0 181.3L132.5 180.9L133.0 184.7L133.5 184.5L134.0 186.7L134.5 187.3L135.0 185.3L135.5 187.7L136.0 184.4L136.5 191.6L137.0 190.2L137.5 188.2L138.0 187.0L138.5 190.3L139.0 186.8L139.5 189.3L140.0 192.5L140.5 191.9L141.0 191.4L141.5 194.5L142.0 191.4L142.5 194.3L143.0 193.5L143.5 193.3L144.0 196.0L144.5 192.9L145.0 197.6L145.5 192.6L146.0 196.7L146.5 190.6L147.0 193.1L147.5 189.3L148.0 188.6L148.5 190.7L149.0 191.1L149.5 187.1L150.0 191.0L150.5 186.9L151.0 188.0L151.5 188.0L152.0 187.8L152.5 183.0L153.0 188.6L153.5 186.2L154.0 183.9L154.5 182.3L155.0 180.5L155.5 181.0L156.0 185.0L156.5 183.9L157.0 183.0L157.5 184.6L158.0 188.9L158.5 186.0L159.0 186.1L159.5 190.1L160.0 189.0L160.5 188.8L161.0 188.2L161.5 187.0L162.0 188.2L162.5 190.0L163.0 191.0L163.5 192.5L164.0 193.4L164.5 193.3L165.0 193.9L165.5 192.2L166.0 190.6L166.5 194.1L167.0 193.2L167.5 193.2L168.0 193.4L168.5 191.1L169.0 190.8L169.5 192.1L170.0 192.0L170.5 190.1L171.0 191.6L171.5 189.8L172.0 187.8L172.5 189.2L173.0 192.0L173.5 186.9L174.0 189.7L174.5 189.5L175.0 189.2L175.5 184.5L176.0 189.1L176.5 185.1L177.0 183.9L177.5 183.4L178.0 184.4L178.5 183.7L179.0 183.9L179.5 187.0L180.0 185.8L180.5 185.5L181.0 189.1L181.5 189.2L182.0 190.2L182.5 186.6L183.0 190.7L183.5 189.9L184.0 192.5L184.5 187.4L185.0 190.3L185.5 189.7L186.0 187.6L186.5 189.4L187.0 193.0L187.5 190.4L188.0 190.3L188.5 193.4L189.0 193.9L189.5 194.2L190.0 190.7L190.5 191.7L191.0 193.4L191.5 190.1L192.0 189.7L192.5 192.2L193.0 193.2L193.5 188.1L194.0 185.2L194.5 187.0L195.0 187.5L195.5 188.8L196.0 189.9L196.5 188.2L197.0 186.9L197.5 188.2L198.0 185.9L198.5 187.3L199.0 185.9L199.5 191.6L200.0 188.0L200.5 184.7L201.0 184.2L201.5 185.5L202.0 183.6L202.5 185.6L203.0 185.8L203.5 189.0L204.0 187.0L204.5 186.6L205.0 185.9L205.5 186.4L206.0 188.7L206.5 188.7L207.0 191.4L207.5 188.5L208.0 191.9L208.5 190.7L209.0 190.5L209.5 187.2L210.0 188.8L210.5 192.7L211.0 194.2L211.5 192.3L212.0 193.6L212.5 191.5L213.0 191.3L213.5 190.5L214.0 193.2L214.5 191.7L215.0 190.4L215.5 190.0L216.0 191.3L216.5 190.6L217.0 188.2L217.5 192.5L218.0 189.6L218.5 188.9L219.0 191.2L219.5 190.2L220.0 187.9L220.5 188.7L221.0 185.5L221.5 186.0L222.0 182.8L222.5 188.8L223.0 182.9L223.5 187.3L224.0 184.6L224.5 184.6L225.0 186.3L225.5 187.4L226.0 188.3L226.5 190.7L227.0 188.4L227.5 189.7L228.0 187.3L228.5 189.9L229.0 189.2L229.5 188.4L230.0 189.3L230.5 189.6L231.0 190.4L231.5 191.0L232.0 189.7L232.5 189.5L233.0 192.5L233.5 188.4L234.0 190.6L234.5 194.8L235.0 187.4L235.5 190.8L236.0 193.1L236.5 188.6L237.0 195.9L237.5 186.3L238.0 193.3L238.5 193.2L239.0 191.8L239.5 189.4L240.0 190.2L240.5 187.7L241.0 190.5L241.5 186.7L242.0 187.9L242.5 189.9L243.0 185.9L243.5 186.9L244.0 187.6L244.5 184.6L245.0 188.8L245.5 187.1L246.0 183.5L246.5 185.8L247.0 184.8L247.5 185.3L248.0 186.9L248.5 185.7L249.0 189.0L249.5 186.3L250.0 189.6L250.5 188.1L251.0 190.0L251.5 187.7L252.0 188.1L252.5 187.2L253.0 190.6L253.5 191.5L254.0 193.9L254.5 192.7L255.0 191.1L255.5 190.6L256.0 191.9L256.5 191.4L257.0 194.4L257.5 193.8L258.0 190.7L258.5 190.7L259.0 194.1L259.5 191.9L260.0 190.7L260.5 193.0L261.0 189.8L261.5 189.7L262.0 189.1L262.5 186.2L263.0 191.0L263.5 186.9L264.0 187.8L264.5 187.2L265.0 189.6L265.5 187.9L266.0 187.7L266.5 184.4L267.0 187.0L267.5 184.2L268.0 187.1L268.5 187.0L269.0 186.0L269.5 189.6L270.0 187.2L270.5 187.6L271.0 187.1L271.5 186.7L272.0 189.1L272.5 189.6L273.0 185.6L273.5 190.1L274.0 189.4L274.5 190.5L275.0 189.9L275.5 187.1L276.0 187.5L276.5 193.2L277.0 190.6L277.5 187.9L278.0 191.4L278.5 190.4L279.0 188.0L279.5 187.4L280.0 189.0L280.5 192.6L281.0 192.0L281.5 191.3L282.0 192.0L282.5 192.3L283.0 187.2L283.5 190.1L284.0 188.9L284.5 187.9L285.0 188.8L285.5 189.3L286.0 188.8L286.5 186.4L287.0 187.8L287.5 192.0L288.0 186.2L288.5 184.8L289.0 188.1L289.5 188.4L290.0 187.8L290.5 184.7L291.0 188.2L291.5 184.7L292.0 183.8L292.5 184.9L293.0 186.1L293.5 187.9L294.0 188.0L294.5 187.1L295.0 189.1L295.5 187.9L296.0 189.6L296.5 185.7L297.0 185.7L297.5 190.2L298.0 186.6L298.5 188.9L299.0 189.5L299.5 189.1L300.0 189.4L300.5 193.0L301.0 186.2L301.5 192.7L302.0 195.5L302.5 191.7L303.0 191.9L303.5 193.5L304.0 195.2L304.5 189.5L305.0 191.5L305.5 190.7L306.0 191.8L306.5 190.8L307.0 191.4L307.5 189.2L308.0 189.8L308.5 188.2L309.0 187.9L309.5 188.6L310.0 188.3L310.5 186.2L311.0 190.8L311.5 187.5L312.0 184.9L312.5 189.1L313.0 185.5L313.5 187.5L314.0 186.3L314.5 186.5L315.0 186.2L315.5 185.1L316.0 186.5L316.5 190.4L317.0 183.0L317.5 187.4L318.0 188.3L318.5 185.9L319.0 185.6L319.5 192.3L320.0 188.0L320.5 192.7L321.0 190.2L321.5 189.6L322.0 190.6L322.5 191.2L323.0 192.5L323.5 191.4L324.0 191.2L324.5 191.5L325.0 193.9L325.5 193.2L326.0 190.2L326.5 190.9L327.0 192.4L327.5 190.4L328.0 190.6L328.5 189.2L329.0 190.2L329.5 191.2L330.0 191.9L330.5 189.9L331.0 193.3L331.5 189.1L332.0 194.7L332.5 190.5L333.0 189.3L333.5 187.3L334.0 182.8L334.5 187.3L335.0 187.6L335.5 190.5L336.0 184.3L336.5 189.9L337.0 185.7L337.5 187.2L338.0 181.4L338.5 186.5L339.0 185.9L339.5 188.0L340.0 187.3L340.5 185.3L341.0 189.4L341.5 189.2L342.0 189.3L342.5 190.3L343.0 190.8L343.5 189.0L344.0 186.9L344.5 187.1L345.0 192.3L345.5 191.5L346.0 190.6L346.5 190.0L347.0 191.1L347.5 191.3L348.0 191.0L348.5 190.6L349.0 196.0L349.5 192.4L350.0 190.6L350.5 189.1L351.0 189.8L351.5 192.1L352.0 191.9L352.5 189.9L353.0 190.1L353.5 189.2L354.0 187.5L354.5 191.5L355.0 189.6L355.5 193.1L356.0 187.0L356.5 187.8L357.0 189.4L357.5 187.0L358.0 184.7L358.5 185.2L359.0 186.8L359.5 187.0L360.0 185.9L360.5 187.6L361.0 187.9L361.5 186.9L362.0 186.7L362.5 186.5L363.0 188.2L363.5 189.1L364.0 187.9L364.5 188.9L365.0 187.7L365.5 186.1L366.0 187.1L366.5 190.5L367.0 190.3L367.5 192.6L368.0 190.1L368.5 191.8L369.0 193.0L369.5 192.6L370.0 190.0L370.5 191.1L371.0 191.9L371.5 190.2L372.0 193.0L372.5 193.7L373.0 190.7L373.5 194.9L374.0 190.5L374.5 190.4L375.0 190.0L375.5 188.9L376.0 190.7L376.5 189.7L377.0 192.3L377.5 190.1L378.0 189.7L378.5 188.1L379.0 185.7L379.5 187.8L380.0 186.1L380.5 189.1L381.0 187.0L381.5 189.8L382.0 187.9L382.5 187.8L383.0 186.4L383.5 186.3L384.0 187.4L384.5 188.1L385.0 185.5L385.5 187.9L386.0 192.0L386.5 187.4L387.0 187.4L387.5 186.9L388.0 185.8L388.5 190.9L389.0 189.1L389.5 189.8L390.0 192.9L390.5 194.4L391.0 188.5L391.5 192.3L392.0 191.8L392.5 191.7L393.0 192.1L393.5 191.5L394.0 194.7L394.5 193.2L395.0 192.7L395.5 194.0L396.0 193.1L396.5 192.0L397.0 191.5L397.5 193.8L398.0 191.3L398.5 189.9L399.0 188.2L399.5 188.9L400.0 187.3L400.5 189.1L401.0 189.1L401.5 184.7L402.0 188.1L402.5 189.0L403.0 187.8L403.5 185.5L404.0 189.3L404.5 185.4L405.0 184.2L405.5 184.2L406.0 185.8L406.5 187.8L407.0 188.4L407.5 187.0L408.0 184.7L408.5 186.0L409.0 185.8L409.5 187.4L410.0 184.8L410.5 188.5L411.0 189.7L411.5 188.6L412.0 189.9L412.5 187.7L413.0 187.1L413.5 188.8L414.0 192.3L414.5 192.4L415.0 190.0L415.5 193.2L416.0 190.8L416.5 194.4L417.0 192.8L417.5 191.4L418.0 193.4L418.5 190.2L419.0 189.7L419.5 188.5L420.0 191.3L420.5 190.4L421.0 190.1L421.5 189.2L422.0 192.3L422.5 188.6L423.0 187.8L423.5 191.1L424.0 191.1L424.5 188.9L425.0 184.9L425.5 186.6L426.0 188.5L426.5 187.2L427.0 189.7L427.5 184.1L428.0 187.5L428.5 184.9L429.0 188.2L429.5 186.0L430.0 188.3L430.5 185.5L431.0 184.4L431.5 185.3L432.0 186.4L432.5 186.0L433.0 190.3L433.5 190.8L434.0 189.2L434.5 187.1L435.0 189.0L435.5 188.3L436.0 192.4L436.5 190.6L437.0 191.2L437.5 189.9L438.0 187.3L438.5 189.8L439.0 189.5L439.5 192.4L440.0 192.2L440.5 190.6L441.0 191.1L441.5 194.3L442.0 189.5L442.5 189.3L443.0 190.3L443.5 189.1L444.0 189.4L444.5 190.8L445.0 192.7L445.5 186.1L446.0 189.0L446.5 188.8L447.0 188.3L447.5 187.8L448.0 187.3L448.5 189.4L449.0 186.5L449.5 186.8L450.0 186.8L450.5 186.7L451.0 185.9L451.5 187.7L452.0 186.0L452.5 186.6L453.0 186.4L453.5 185.0L454.0 185.6L454.5 185.5L455.0 188.0L455.5 186.6L456.0 186.3L456.5 188.9L457.0 189.7L457.5 185.9L458.0 192.4L458.5 189.7L459.0 189.7L459.5 192.1L460.0 190.6L460.5 189.7L461.0 195.0L461.5 189.4L462.0 191.4L462.5 193.4L463.0 190.2L463.5 191.8L464.0 192.4L464.5 195.7L465.0 189.5L465.5 190.8L466.0 191.8L466.5 190.4L467.0 187.8L467.5 190.5L468.0 189.6L468.5 190.0L469.0 190.9L469.5 190.4L470.0 189.1L470.5 188.6L471.0 185.8L471.5 187.2L472.0 187.6L472.5 186.2L473.0 186.8L473.5 184.9L474.0 188.8L474.5 189.7L475.0 185.4L475.5 187.1L476.0 186.2L476.5 189.2L477.0 188.0L477.5 187.6L478.0 187.4L478.5 188.3L479.0 186.5L479.5 189.8L480.0 187.6L480.5 190.1L481.0 189.6L481.5 191.6L482.0 189.8L482.5 192.0L483.0 188.7L483.5 191.7L484.0 190.5L484.5 191.5L485.0 191.5L485.5 193.3L486.0 188.1L486.5 192.0L487.0 188.4L487.5 193.0L488.0 186.9L488.5 188.4L489.0 186.9L489.5 192.5L490.0 186.9L490.5 189.1L491.0 187.7L491.5 185.1L492.0 187.4L492.5 188.9L493.0 187.0L493.5 188.7L494.0 186.1L494.5 186.4L495.0 185.4L495.5 186.4L496.0 188.9L496.5 185.8L497.0 185.2L497.5 183.7L498.0 183.7L498.5 187.9L499.0 183.5L499.5 184.1L500.0 185.8L500.5 185.5L501.0 190.0L501.5 182.5L502.0 187.7L502.5 188.5L503.0 185.5L503.5 186.6L504.0 188.8L504.5 191.2L505.0 186.8L505.5 185.9L506.0 190.7L506.5 192.0L507.0 188.9L507.5 185.7L508.0 192.6L508.5 189.9L509.0 192.2L509.5 189.7L510.0 188.8L510.5 188.4L511.0 191.5L511.5 191.2L512.0 184.4L512.5 186.3L513.0 190.8L513.5 186.7L514.0 184.6L514.5 186.7L515.0 186.2L515.5 185.9L516.0 184.9L516.5 184.9L517.0 184.3L517.5 185.4L518.0 183.0L518.5 183.7L519.0 183.6L519.5 185.9L520.0 183.9L520.5 183.2L521.0 184.6L521.5 184.6L522.0 186.1L522.5 185.3L523.0 187.9L523.5 187.3L524.0 185.0L524.5 184.6L525.0 187.2L525.5 186.8L526.0 185.9L526.5 184.1L527.0 184.1L527.5 188.7L528.0 190.2L528.5 190.9L529.0 187.8L529.5 192.7L530.0 190.5L530.5 192.8L531.0 193.6L531.5 192.1L532.0 192.8L532.5 190.4L533.0 192.8L533.5 191.6L534.0 195.9L534.5 195.6L535.0 197.4L535.5 196.7L536.0 195.3L536.5 197.4L537.0 196.4L537.5 198.5L538.0 198.3L538.5 196.3L539.0 198.4L539.5 198.8L540.0 198.5L540.5 200.9L541.0 202.6L541.5 199.1L542.0 199.4L542.5 196.2L543.0 200.4L543.5 200.4L544.0 197.9L544.5 202.9L545.0 204.1L545.5 202.3L546.0 203.6L546.5 203.1L547.0 206.8L547.5 203.3L548.0 206.1L548.5 210.8L549.0 207.9L549.5 209.3L550.0 208.8L550.5 207.6L551.0 210.2L551.5 211.6L552.0 209.6L552.5 212.7L553.0 214.9L553.5 215.2L554.0 211.0L554.5 212.3L555.0 211.0L555.5 215.7L556.0 214.8L556.5 214.9L557.0 211.9L557.5 211.3L558.0 213.5L558.5 213.4L559.0 211.6L559.5 213.3L560.0 214.1L560.5 213.3L561.0 210.9L561.5 208.9L562.0 212.1L562.5 212.8L563.0 211.9L563.5 211.5L564.0 210.9L564.5 213.4L565.0 211.9L565.5 212.1L566.0 210.3L566.5 211.1L567.0 212.8L567.5 211.0L568.0 210.8L568.5 212.7L569.0 215.7L569.5 214.1L570.0 216.7L570.5 214.1L571.0 214.0L571.5 212.3L572.0 214.0L572.5 217.9L573.0 216.2L573.5 217.1L574.0 217.3L574.5 216.3L575.0 216.2L575.5 217.0L576.0 218.3L576.5 218.2L577.0 218.5L577.5 217.8L578.0 216.1L578.5 216.9L579.0 215.6L579.5 219.0L580.0 213.3L580.5 216.6L581.0 221.2L581.5 216.2L582.0 214.7L582.5 216.6L583.0 218.8L583.5 216.1L584.0 217.4L584.5 216.4L585.0 215.5L585.5 221.7L586.0 216.1L586.5 214.9L587.0 214.9L587.5 216.3L588.0 216.3L588.5 216.8L589.0 216.0L589.5 213.4L590.0 217.2L590.5 215.9L591.0 216.2L591.5 214.3L592.0 216.2L592.5 216.9L593.0 219.2L593.5 217.6L594.0 221.4L594.5 222.5L595.0 221.3L595.5 223.2L596.0 223.8L596.5 227.9L597.0 222.8L597.5 227.7L598.0 226.3L598.5 229.6L599.0 232.9L599.5 231.2L600.0 233.5L600.5 232.4L601.0 238.1L601.5 236.9L602.0 238.0L602.5 234.2L603.0 235.3L603.5 239.8L604.0 238.2L604.5 238.1L605.0 239.3L605.5 236.4L606.0 240.1L606.5 238.8L607.0 239.7L607.5 237.7L608.0 239.9L608.5 237.7L609.0 240.7L609.5 241.1L610.0 240.8L610.5 240.1L611.0 240.4L611.5 234.5L612.0 241.3L612.5 239.7L613.0 240.8L613.5 240.5L614.0 238.9L614.5 240.8L615.0 243.4L615.5 245.1L616.0 241.9L616.5 241.8L617.0 246.4L617.5 242.6L618.0 248.3L618.5 245.1L619.0 243.8L619.5 247.5L620.0 249.2L620.5 244.0L621.0 249.8L621.5 246.9L622.0 250.4L622.5 247.5L623.0 245.5L623.5 249.3L624.0 250.1L624.5 252.3L625.0 251.6L625.5 249.8L626.0 248.2L626.5 247.7L627.0 248.2L627.5 247.3L628.0 248.3L628.5 244.3L629.0 249.2L629.5 248.9L630.0 253.6L630.5 250.4L631.0 248.2L631.5 250.2L632.0 247.0L632.5 248.1L633.0 245.9L633.5 251.9L634.0 250.4L634.5 247.6L635.0 250.0L635.5 252.2L636.0 251.8L636.5 252.0L637.0 250.1L637.5 250.9L638.0 252.7L638.5 254.5L639.0 251.8L639.5 251.7L640.0 256.1L640.5 252.8L641.0 256.8L641.5 255.7L642.0 257.2L642.5 259.1L643.0 257.6L643.5 258.2L644.0 255.5L644.5 256.3L645.0 259.1L645.5 261.1L646.0 260.8L646.5 262.5L647.0 258.9L647.5 258.8L648.0 260.3L648.5 258.5L649.0 258.4L649.5 256.7L650.0 260.4L650.5 256.7L651.0 259.6L651.5 256.1L652.0 260.7L652.5 256.9L653.0 260.3L653.5 256.0L654.0 258.1L654.5 261.0L655.0 257.5L655.5 259.1L656.0 258.1L656.5 254.9L657.0 259.7L657.5 260.3L658.0 257.9L658.5 261.3L659.0 259.2L659.5 259.2L660.0 261.4L660.5 260.6L661.0 266.3L661.5 259.8L662.0 264.3L662.5 265.1L663.0 260.2L663.5 261.0L664.0 265.5L664.5 264.4L665.0 266.8L665.5 268.9L666.0 267.0L666.5 266.6L667.0 264.4L667.5 270.5L668.0 269.2L668.5 272.1L669.0 272.4L669.5 270.0L670.0 276.0L670.5 275.3L671.0 275.3L671.5 272.1L672.0 274.0L672.5 273.7L673.0 274.0L673.5 272.7L674.0 275.5L674.5 275.2L675.0 275.4L675.5 273.9L676.0 277.1L676.5 275.1L677.0 269.9L677.5 273.7L678.0 274.7L678.5 276.6L679.0 274.3L679.5 274.4L680.0 273.9L680.5 276.7L681.0 275.0L681.5 275.1L682.0 275.2L682.5 277.9L683.0 276.3L683.5 274.6L684.0 279.1L684.5 277.1L685.0 279.4L685.5 279.8L686.0 281.6L686.5 281.7L687.0 279.2L687.5 280.2L688.0 278.6L688.5 284.3L689.0 282.4L689.5 284.5L690.0 281.8L690.5 279.0L691.0 285.8L691.5 283.3L692.0 283.4L692.5 283.3L693.0 284.4L693.5 284.2L694.0 280.4L694.5 285.2L695.0 282.3L695.5 282.4L696.0 286.4L696.5 284.9L697.0 282.7L697.5 280.0L698.0 283.6L698.5 284.3L699.0 283.2L699.5 281.1L700.0 282.0L700.5 281.1L701.0 283.8L701.5 284.9L702.0 285.3L702.5 282.1L703.0 284.2L703.5 285.2L704.0 283.6L704.5 284.8L705.0 289.5L705.5 286.5L706.0 288.3L706.5 286.5L707.0 287.9L707.5 285.3L708.0 288.9L708.5 291.6L709.0 293.8L709.5 292.7L710.0 292.4L710.5 291.8L711.0 291.2L711.5 292.5L712.0 294.4L712.5 292.5L713.0 296.1L713.5 293.2L714.0 292.3L714.5 293.8L715.0 292.9L715.5 293.6L716.0 298.3L716.5 296.1L717.0 297.1L717.5 298.9L718.0 299.3L718.5 296.4L719.0 299.9L719.5 298.4L720.0 297.9L720.5 298.7L721.0 295.3L721.5 296.5L722.0 297.7L722.5 299.0L723.0 297.3L723.5 297.7L724.0 299.7L724.5 300.5L725.0 299.4L725.5 300.4L726.0 297.8L726.5 298.3L727.0 299.8L727.5 299.0L728.0 299.0L728.5 303.3L729.0 300.3L729.5 299.3L730.0 302.3L730.5 305.1L731.0 302.3L731.5 304.7L732.0 302.1L732.5 302.3L733.0 302.3L733.5 303.7L734.0 307.6L734.5 302.6L735.0 308.0L735.5 303.6L736.0 305.3L736.5 307.6L737.0 307.4L737.5 306.8L738.0 303.3L738.5 307.0L739.0 304.5L739.5 311.0L740.0 306.0L740.5 306.7L741.0 304.3L741.5 305.5L742.0 304.1L742.5 308.2L743.0 305.9L743.5 307.4L744.0 305.2L744.5 305.5L745.0 308.8L745.5 304.7L746.0 303.2L746.5 307.2L747.0 304.5L747.5 305.7L748.0 308.2L748.5 305.4L749.0 308.8L749.5 306.3L750.0 310.6L750.5 310.7L751.0 307.8L751.5 308.6L752.0 307.9L752.5 310.2L753.0 312.4L753.5 308.2L754.0 313.0L754.5 309.4L755.0 310.7L755.5 309.6L756.0 317.1L756.5 313.9L757.0 314.7L757.5 313.5L758.0 317.1L758.5 311.9L759.0 316.2L759.5 320.7L760.0 316.1L760.5 317.0L761.0 318.3L761.5 315.8L762.0 317.4L762.5 319.2L763.0 318.0L763.5 318.5L764.0 317.3L764.5 318.6L765.0 318.3L765.5 321.0L766.0 319.8L766.5 318.2L767.0 314.3L767.5 320.2L768.0 320.4L768.5 317.5L769.0 315.8L769.5 317.5L770.0 321.4L770.5 318.0L771.0 319.3L771.5 321.1L772.0 323.4L772.5 321.7L773.0 322.1L773.5 321.8L774.0 326.2L774.5 325.7L775.0 324.2L775.5 322.4L776.0 324.0L776.5 327.0L777.0 325.1L777.5 328.6L778.0 328.1L778.5 328.5L779.0 329.7L779.5 330.0L780.0 328.1L780.5 329.5L781.0 334.9L781.5 329.0L782.0 330.8L782.5 334.0L783.0 332.0L783.5 331.0L784.0 330.2L784.5 333.7L785.0 334.8L785.5 335.6L786.0 333.4L786.5 335.4L787.0 331.8L787.5 334.1L788.0 332.8L788.5 334.4L789.0 335.5L789.5 336.1L790.0 332.5L790.5 336.7L791.0 333.6L791.5 332.7L792.0 334.3L792.5 332.0L793.0 334.8L793.5 335.3L794.0 334.7L794.5 336.5L795.0 335.4L795.5 336.4L796.0 334.2L796.5 337.3L797.0 336.1L797.5 337.3L798.0 338.3L798.5 339.3L799.0 336.4L799.5 337.0L800.0 339.7L800.5 341.5L801.0 341.7L801.5 343.1L802.0 344.3L802.5 343.2L803.0 342.7L803.5 341.3L804.0 341.9L804.5 343.2L805.0 344.9L805.5 345.0L806.0 344.7L806.5 344.5L807.0 346.0L807.5 345.3L808.0 345.5L808.5 345.6L809.0 344.1L809.5 343.4L810.0 346.2L810.5 346.1L811.0 345.0L811.5 344.8L812.0 349.7L812.5 344.4L813.0 345.5L813.5 346.6L814.0 344.2L814.5 346.7L815.0 349.9L815.5 348.5L816.0 348.1L816.5 348.2L817.0 347.9L817.5 349.9L818.0 348.4L818.5 348.5L819.0 350.0L819.5 351.9L820.0 351.4L820.5 352.6L821.0 348.2L821.5 354.6L822.0 357.1L822.5 355.9L823.0 353.4L823.5 353.0L824.0 355.5L824.5 353.8L825.0 357.4L825.5 355.7L826.0 358.9L826.5 360.1L827.0 354.5L827.5 359.2L828.0 357.9L828.5 356.8L829.0 358.4L829.5 359.3L830.0 361.7L830.5 357.3L831.0 362.1L831.5 364.0L832.0 361.6L832.5 361.6L833.0 360.7L833.5 358.7L834.0 361.8L834.5 361.6L835.0 362.3L835.5 365.7L836.0 362.5L836.5 362.0L837.0 364.1L837.5 359.0L838.0 359.4L838.5 360.9L839.0 360.4L839.5 363.1L840.0 361.7L840.5 365.8L841.0 365.8L841.5 364.9L842.0 363.3L842.5 365.5L843.0 366.3L843.5 363.3L844.0 366.3L844.5 367.3L845.0 366.9L845.5 369.8L846.0 369.5L846.5 366.3L847.0 368.4L847.5 367.1L848.0 370.1L848.5 367.9L849.0 371.6L849.5 371.0L850.0 372.5L850.5 370.9L851.0 368.8L851.5 374.6L852.0 371.2L852.5 374.1L853.0 372.5L853.5 373.0L854.0 375.1L854.5 372.5L855.0 374.5L855.5 369.4L856.0 373.7L856.5 371.8L857.0 372.0L857.5 372.4L858.0 373.1L858.5 375.5L859.0 369.3L859.5 372.7L860.0 371.4L860.5 374.9L861.0 372.1L861.5 373.8L862.0 372.3L862.5 374.6L863.0 375.6L863.5 373.5L864.0 374.8L864.5 372.5L865.0 376.1L865.5 377.5L866.0 375.4L866.5 378.8L867.0 373.5L867.5 374.3L868.0 375.6L868.5 377.6L869.0 379.0L869.5 379.2L870.0 379.7L870.5 381.5L871.0 379.8L871.5 378.8L872.0 379.2L872.5 385.7L873.0 378.1L873.5 382.4L874.0 385.4L874.5 383.8L875.0 381.5L875.5 383.1L876.0 384.7L876.5 385.4L877.0 381.7L877.5 384.7L878.0 383.9L878.5 385.5L879.0 386.1L879.5 383.0L880.0 380.8L880.5 383.7L881.0 385.8L881.5 383.4L882.0 382.2L882.5 385.7L883.0 379.1L883.5 382.1L884.0 379.1L884.5 379.8L885.0 379.6L885.5 382.6L886.0 378.5L886.5 379.6L887.0 378.1L887.5 382.2L888.0 380.9L888.5 382.9L889.0 380.6L889.5 382.2L890.0 385.1L890.5 383.3L891.0 385.2L891.5 385.4L892.0 384.2L892.5 382.4L893.0 387.3L893.5 386.3L894.0 388.1L894.5 383.1L895.0 384.1L895.5 383.6L896.0 386.3L896.5 389.8L897.0 388.5L897.5 387.1L898.0 386.9L898.5 387.7L899.0 385.3L899.5 386.2L900.0 385.3L900.5 380.7L901.0 383.6L901.5 386.3L902.0 382.7L902.5 382.8L903.0 381.5L903.5 381.4L904.0 383.8L904.5 380.9L905.0 379.2L905.5 375.0L906.0 379.2L906.5 376.2L907.0 376.1L907.5 380.4L908.0 380.3L908.5 376.0L909.0 381.3L909.5 381.0L910.0 379.2L910.5 382.3L911.0 378.4L911.5 379.5L912.0 379.5L912.5 380.5L913.0 384.4L913.5 380.8L914.0 381.6L914.5 382.3L915.0 384.7L915.5 384.2L916.0 386.7L916.5 384.3L917.0 383.6L917.5 385.4L918.0 386.7L918.5 385.4L919.0 387.9L919.5 390.5L920.0 385.7L920.5 386.4L921.0 388.4L921.5 384.4L922.0 383.6L922.5 382.8L923.0 385.0L923.5 384.8L924.0 383.2L924.5 383.2L925.0 385.0L925.5 383.8L926.0 379.3L926.5 381.4L927.0 381.2L927.5 381.9L928.0 379.8L928.5 378.7L929.0 378.6L929.5 375.8L930.0 378.6L930.5 377.1L931.0 379.4L931.5 377.1L932.0 378.5L932.5 377.9L933.0 378.2L933.5 381.7L934.0 380.0L934.5 382.0L935.0 379.6L935.5 382.2L936.0 379.3L936.5 381.9L937.0 382.2L937.5 384.6L938.0 384.2L938.5 384.0L939.0 386.2L939.5 385.4L940.0 386.4L940.5 387.2L941.0 386.1L941.5 386.0L942.0 387.4L942.5 385.6L943.0 386.7L943.5 387.6L944.0 386.7L944.5 384.1L945.0 382.0L945.5 383.8L946.0 383.3L946.5 385.1L947.0 382.0L947.5 381.9L948.0 383.2L948.5 380.6L949.0 380.8L949.5 383.8L950.0 382.9L950.5 381.0L951.0 379.9L951.5 377.3L952.0 379.6L952.5 378.3L953.0 378.2L953.5 376.8L954.0 378.1L954.5 378.2L955.0 379.4L955.5 381.8L956.0 380.3L956.5 377.0L957.0 378.7L957.5 377.9L958.0 379.7L958.5 382.6L959.0 382.7L959.5 381.2L960.0 383.2L960.5 381.7L961.0 380.9L961.5 381.4L962.0 382.7L962.5 387.2L963.0 382.7L963.5 387.7L964.0 388.3L964.5 385.9L965.0 386.1L965.5 384.7L966.0 385.4L966.5 386.2L967.0 384.6L967.5 386.0L968.0 386.0L968.5 384.1L969.0 383.6L969.5 382.6L970.0 382.9L970.5 379.9L971.0 382.2L971.5 381.5L972.0 379.1L972.5 384.2L973.0 378.2L973.5 378.0L974.0 379.6L974.5 375.3L975.0 376.9L975.5 375.2L976.0 375.8L976.5 377.6L977.0 378.8L977.5 380.6L978.0 380.4L978.5 381.5L979.0 380.8L979.5 379.3L980.0 382.6L980.5 380.1L981.0 380.3L981.5 384.5L982.0 383.6L982.5 383.0L983.0 384.3L983.5 384.9L984.0 381.3L984.5 384.0L985.0 382.4L985.5 385.2L986.0 384.1L986.5 388.2L987.0 387.1L987.5 385.1L988.0 386.1L988.5 383.6L989.0 385.4L989.5 385.9L990.0 385.0L990.5 380.7L991.0 383.2L991.5 384.3L992.0 383.5L992.5 384.7L993.0 379.9L993.5 382.8L994.0 380.2L994.5 381.4L995.0 381.4L995.5 381.5L996.0 378.8L996.5 379.8L997.0 377.0L997.5 376.1L998.0 379.3L998.5 377.8L999.0 374.7L999.5 376.5L1000.0 378.5L1000.5 381.6L1001.0 381.1L1001.5 381.1L1002.0 376.8L1002.5 380.3L1003.0 381.7L1003.5 381.9L1004.0 382.4L1004.5 381.6L1005.0 385.6L1005.5 385.5L1006.0 383.0L1006.5 381.8L1007.0 387.7L1007.5 383.4L1008.0 386.9L1008.5 388.6L1009.0 383.9L1009.5 386.5L1010.0 385.8L1010.5 387.4L1011.0 386.6L1011.5 389.2L1012.0 386.3L1012.5 384.9L1013.0 386.5L1013.5 383.6L1014.0 383.1L1014.5 387.4L1015.0 381.5L1015.5 381.7L1016.0 382.2L1016.5 379.9L1017.0 377.6L1017.5 382.9L1018.0 379.2L1018.5 379.2L1019.0 379.1L1019.5 377.6L1020.0 377.1L1020.5 378.9L1021.0 382.5L1021.5 379.2L1022.0 379.3L1022.5 375.6L1023.0 378.7L1023.5 377.0L1024.0 380.9L1024.5 379.5L1025.0 380.4L1025.5 380.5L1026.0 380.0L1026.5 378.7L1027.0 382.9L1027.5 379.8L1028.0 380.5L1028.5 382.5L1029.0 382.2L1029.5 384.3L1030.0 386.1L1030.5 385.1L1031.0 385.4L1031.5 385.5L1032.0 387.4L1032.5 382.9L1033.0 387.3L1033.5 384.7L1034.0 383.8L1034.5 385.6L1035.0 384.5L1035.5 385.9L1036.0 386.4L1036.5 379.9L1037.0 383.5L1037.5 386.8L1038.0 384.4L1038.5 385.1L1039.0 382.3L1039.5 379.1L1040.0 379.3L1040.5 382.2L1041.0 382.2L1041.5 378.8L1042.0 379.3L1042.5 379.8L1043.0 375.8L1043.5 377.9L1044.0 381.1L1044.5 381.7L1045.0 378.0L1045.5 381.9L1046.0 378.0L1046.5 377.9L1047.0 375.7L1047.5 381.9L1048.0 379.9L1048.5 385.2L1049.0 381.9L1049.5 382.1L1050.0 378.9L1050.5 385.2L1051.0 382.3L1051.5 383.0L1052.0 379.8L1052.5 385.8L1053.0 386.3L1053.5 383.8L1054.0 385.5L1054.5 386.4L1055.0 387.8L1055.5 386.7L1056.0 389.8L1056.5 385.9L1057.0 384.9L1057.5 384.7L1058.0 380.6L1058.5 383.3L1059.0 386.2L1059.5 384.5L1060.0 382.1L1060.5 383.8L1061.0 379.2L1061.5 381.9L1062.0 383.0L1062.5 382.9L1063.0 379.9L1063.5 382.5L1064.0 383.8L1064.5 379.3L1065.0 381.0L1065.5 376.5L1066.0 375.4L1066.5 379.6L1067.0 378.2L1067.5 378.4L1068.0 377.4L1068.5 378.3L1069.0 380.7L1069.5 382.7L1070.0 379.6L1070.5 377.5L1071.0 383.1L1071.5 382.3L1072.0 382.8L1072.5 382.3L1073.0 386.6L1073.5 382.9L1074.0 384.1L1074.5 380.3L1075.0 383.0L1075.5 383.2L1076.0 384.7L1076.5 385.8L1077.0 384.2L1077.5 389.1L1078.0 384.5L1078.5 386.0L1079.0 387.1L1079.5 384.1L1080.0 386.9L1080.5 386.7L1081.0 384.6L1081.5 388.2L1082.0 384.5L1082.5 384.5L1083.0 381.8L1083.5 380.2L1084.0 381.6L1084.5 381.8L1085.0 381.2L1085.5 383.0L1086.0 376.9L1086.5 378.8L1087.0 377.1L1087.5 382.4L1088.0 378.6L1088.5 378.3L1089.0 376.9L1089.5 380.1L1090.0 377.3L1090.5 378.7L1091.0 375.0L1091.5 381.2L1092.0 380.2L1092.5 380.9L1093.0 382.5L1093.5 380.3L1094.0 380.8L1094.5 382.8L1095.0 382.7L1095.5 381.8L1096.0 382.8L1096.5 382.2L1097.0 384.8L1097.5 385.6L1098.0 384.3L1098.5 388.1L1099.0 382.3L1099.5 385.0L1100.0 388.9L1100.5 385.5L1101.0 383.8L1101.5 389.6L1102.0 387.6L1102.5 384.1L1103.0 387.3L1103.5 383.6L1104.0 382.7L1104.5 384.4L1105.0 383.4L1105.5 381.9L1106.0 382.9L1106.5 381.3L1107.0 382.8L1107.5 382.3L1108.0 383.3L1108.5 380.7L1109.0 378.8L1109.5 378.4L1110.0 379.9L1110.5 382.8L1111.0 381.1L1111.5 378.0L1112.0 380.5L1112.5 376.3L1113.0 380.0L1113.5 377.9L1114.0 380.4L1114.5 380.5L1115.0 379.3L1115.5 380.8L1116.0 378.6L1116.5 380.8L1117.0 383.3L1117.5 389.1L1118.0 383.4L1118.5 382.7L1119.0 381.1L1119.5 385.3L1120.0 380.7L1120.5 382.7L1121.0 385.2L1121.5 382.8L1122.0 388.1L1122.5 387.7L1123.0 385.1L1123.5 385.5L1124.0 384.5L1124.5 384.5L1125.0 387.4L1125.5 387.3L1126.0 386.5L1126.5 385.9L1127.0 384.0L1127.5 385.3L1128.0 381.6L1128.5 383.9L1129.0 386.1L1129.5 385.5L1130.0 381.8L1130.5 381.7L1131.0 384.4L1131.5 384.7L1132.0 378.4L1132.5 379.9L1133.0 380.7L1133.5 382.1L1134.0 378.0L1134.5 380.3L1135.0 378.2L1135.5 382.7L1136.0 379.2L1136.5 378.6L1137.0 378.6L1137.5 381.5L1138.0 381.3L1138.5 378.5L1139.0 381.2L1139.5 378.8L1140.0 380.3L1140.5 379.7L1141.0 380.0L1141.5 381.6L1142.0 381.4L1142.5 384.6L1143.0 385.4L1143.5 384.0L1144.0 382.8L1144.5 386.6L1145.0 381.9L1145.5 382.5L1146.0 387.7L1146.5 388.0L1147.0 388.9L1147.5 386.6L1148.0 384.3L1148.5 385.2L1149.0 386.8L1149.5 384.0L1150.0 383.7L1150.5 382.1L1151.0 382.1L1151.5 385.3L1152.0 384.2L1152.5 380.9L1153.0 380.7L1153.5 381.2L1154.0 382.8L1154.5 379.3L1155.0 380.8L1155.5 376.8L1156.0 378.0L1156.5 380.6L1157.0 381.1L1157.5 377.0L1158.0 377.3L1158.5 379.8L1159.0 378.0L1159.5 378.1L1160.0 380.4L1160.5 380.3L1161.0 382.3L1161.5 382.1L1162.0 380.0L1162.5 381.3L1163.0 381.8L1163.5 379.8L1164.0 380.9L1164.5 384.8L1165.0 380.6L1165.5 385.7L1166.0 384.8L1166.5 384.4L1167.0 386.0L1167.5 386.3L1168.0 388.0L1168.5 385.5L1169.0 386.2L1169.5 386.6L1170.0 390.7L1170.5 388.6L1171.0 384.8L1171.5 385.5L1172.0 384.4L1172.5 385.3L1173.0 385.3L1173.5 388.7L1174.0 380.9L1174.5 385.6L1175.0 384.2L1175.5 381.7L1176.0 382.3L1176.5 381.3L1177.0 381.9L1177.5 383.2L1178.0 378.3L1178.5 383.0L1179.0 379.6L1179.5 382.5L1180.0 380.2L1180.5 381.3L1181.0 379.7L1181.5 380.5L1182.0 379.1L1182.5 377.9"/><path stroke="#8a8ad8" stroke-width="1.3" fill="none" d="M34.0 269.4L36.0 269.0L38.0 269.6L40.0 268.4L42.0 269.9L44.0 271.1L46.0 270.7L48.0 271.2L50.0 271.7L52.0 270.7L54.0 269.1L56.0 269.4L58.0 269.2L60.0 269.3L62.0 269.8L64.0 270.5L66.0 270.7L68.0 271.1L70.0 271.4L72.0 270.6L74.0 270.5L76.0 269.0L78.0 267.8L80.0 268.6L82.0 269.4L84.0 270.1L86.0 270.7L88.0 270.9L90.0 271.9L92.0 270.6L94.0 270.5L96.0 269.3L98.0 268.4L100.0 269.3L102.0 268.0L104.0 269.3L106.0 270.5L108.0 270.9L110.0 271.6L112.0 271.1L114.0 270.4L116.0 270.7L118.0 269.0L120.0 268.7L122.0 268.3L124.0 269.0L126.0 270.3L128.0 270.9L130.0 271.2L132.0 271.0L134.0 271.2L136.0 269.5L138.0 269.3L140.0 268.8L142.0 268.4L144.0 269.0L146.0 269.3L148.0 270.1L150.0 271.7L152.0 271.6L154.0 271.6L156.0 270.6L158.0 270.2L160.0 269.4L162.0 269.2L164.0 269.7L166.0 269.2L168.0 270.1L170.0 270.7L172.0 269.8L174.0 270.7L176.0 270.9L178.0 270.4L180.0 269.2L182.0 269.3L184.0 269.2L186.0 268.8L188.0 270.2L190.0 271.1L192.0 271.2L194.0 270.9L196.0 271.7L198.0 270.5L200.0 269.7L202.0 269.2L204.0 268.5L206.0 269.2L208.0 269.6L210.0 270.5L212.0 271.0L214.0 270.9L216.0 271.2L218.0 271.2L220.0 270.0L222.0 270.6L224.0 268.8L226.0 268.5L228.0 269.4L230.0 269.9L232.0 270.4L234.0 270.9L236.0 271.5L238.0 271.5L240.0 270.9L242.0 269.7L244.0 269.3L246.0 269.1L248.0 269.1L250.0 268.0L252.0 269.6L254.0 270.4L256.0 271.1L258.0 271.3L260.0 271.3L262.0 270.4L264.0 269.4L266.0 268.9L268.0 269.4L270.0 268.7L272.0 269.7L274.0 271.0L276.0 271.2L278.0 270.5L280.0 271.3L282.0 270.4L284.0 269.8L286.0 269.5L288.0 268.9L290.0 268.7L292.0 269.6L294.0 270.2L296.0 270.8L298.0 271.3L300.0 271.4L302.0 270.7L304.0 270.0L306.0 269.4L308.0 268.5L310.0 268.2L312.0 269.5L314.0 269.5L316.0 270.4L318.0 271.0L320.0 271.3L322.0 271.1L324.0 270.6L326.0 269.5L328.0 269.5L330.0 268.5L332.0 269.2L334.0 268.5L336.0 269.6L338.0 271.1L340.0 271.2L342.0 271.0L344.0 271.0L346.0 269.8L348.0 269.5L350.0 268.0L352.0 268.5L354.0 268.7L356.0 269.8L358.0 270.7L360.0 270.7L362.0 271.9L364.0 270.9L366.0 269.7L368.0 268.9L370.0 269.7L372.0 268.7L374.0 268.5L376.0 269.0L378.0 269.6L380.0 271.3L382.0 271.2L384.0 272.0L386.0 270.8L388.0 269.3L390.0 269.8L392.0 268.7L394.0 268.6L396.0 269.6L398.0 269.5L400.0 270.8L402.0 271.0L404.0 271.0L406.0 271.3L408.0 270.3L410.0 270.3L412.0 269.5L414.0 268.8L416.0 269.0L418.0 269.5L420.0 269.9L422.0 271.1L424.0 271.1L426.0 271.5L428.0 270.5L430.0 270.2L432.0 269.6L434.0 268.6L436.0 268.5L438.0 268.8L440.0 269.9L442.0 270.1L444.0 271.2L446.0 271.9L448.0 271.3L450.0 269.9L452.0 269.9L454.0 269.5L456.0 268.6L458.0 269.2L460.0 269.5L462.0 270.2L464.0 270.6L466.0 271.0L468.0 271.2L470.0 270.9L472.0 270.4L474.0 269.6L476.0 268.8L478.0 268.7L480.0 269.1L482.0 269.0L484.0 270.1L486.0 270.7L488.0 271.2L490.0 271.0L492.0 270.5L494.0 269.5L496.0 269.4L498.0 268.8L500.0 268.1L502.0 269.3L504.0 269.6L506.0 271.4L508.0 271.0L510.0 271.1L512.0 270.9L514.0 270.1L516.0 269.4L518.0 269.5L520.0 268.8L522.0 269.3L524.0 270.1L526.0 270.0L528.0 271.7L530.0 271.6L532.0 271.5L534.0 270.2L536.0 270.1L538.0 269.3L540.0 268.5L542.0 269.7L544.0 269.5L546.0 269.9L548.0 270.8L550.0 271.6L552.0 271.7L554.0 271.1L556.0 270.7L558.0 270.0L560.0 268.4L562.0 268.5L564.0 268.5L566.0 269.5L568.0 270.7L570.0 271.0L572.0 270.5L574.0 270.6L576.0 270.5L578.0 269.1L580.0 268.5L582.0 268.2L584.0 267.3L586.0 268.8L588.0 269.3L590.0 270.1L592.0 269.9L594.0 269.9L596.0 269.6L598.0 269.2L600.0 268.3L602.0 267.7L604.0 268.1L606.0 268.1L608.0 267.9L610.0 268.6L612.0 270.2L614.0 269.7L616.0 270.2L618.0 269.7L620.0 268.0L622.0 267.4L624.0 267.2L626.0 266.9L628.0 267.3L630.0 268.2L632.0 269.5L634.0 269.4L636.0 269.5L638.0 269.1L640.0 268.0L642.0 268.4L644.0 266.3L646.0 266.8L648.0 267.5L650.0 267.3L652.0 268.9L654.0 269.8L656.0 269.2L658.0 269.5L660.0 268.4L662.0 268.2L664.0 267.4L666.0 267.0L668.0 267.5L670.0 267.6L672.0 268.7L674.0 269.1L676.0 268.9L678.0 269.5L680.0 269.2L682.0 267.7L684.0 268.1L686.0 267.0L688.0 266.9L690.0 266.7L692.0 267.7L694.0 268.5L696.0 268.9L698.0 269.3L700.0 268.3L702.0 269.0L704.0 267.1L706.0 265.8L708.0 265.8L710.0 265.7L712.0 266.6L714.0 266.6L716.0 267.7L718.0 267.5L720.0 268.7L722.0 267.5L724.0 267.2L726.0 265.1L728.0 265.0L730.0 264.1L732.0 264.8L734.0 265.3L736.0 265.1L738.0 265.7L740.0 265.8L742.0 265.6L744.0 265.4L746.0 264.5L748.0 263.7L750.0 264.0L752.0 264.3L754.0 264.0L756.0 265.1L758.0 266.1L760.0 266.5L762.0 266.4L764.0 266.7L766.0 266.1L768.0 265.3L770.0 264.4L772.0 265.1L774.0 265.4L776.0 265.2L778.0 266.1L780.0 267.3L782.0 266.8L784.0 267.2L786.0 266.5L788.0 265.5L790.0 265.0L792.0 264.3L794.0 264.9L796.0 264.9L798.0 267.5L800.0 268.1L802.0 268.6L804.0 268.4L806.0 268.5L808.0 268.1L810.0 267.3L812.0 266.9L814.0 266.1L816.0 267.1L818.0 267.5L820.0 268.2L822.0 269.0L824.0 270.0L826.0 270.2L828.0 268.9L830.0 269.5L832.0 268.7L834.0 267.6L836.0 267.6L838.0 268.3L840.0 269.4L842.0 269.6L844.0 269.8L846.0 270.5L848.0 269.1L850.0 269.3L852.0 269.0L854.0 268.1L856.0 268.1L858.0 268.3L860.0 269.0L862.0 269.6L864.0 269.8L866.0 270.4L868.0 270.3L870.0 270.2L872.0 269.6L874.0 268.5L876.0 267.6L878.0 267.7L880.0 268.4L882.0 269.8L884.0 270.1L886.0 270.4L888.0 270.2L890.0 270.5L892.0 269.6L894.0 268.7L896.0 268.2L898.0 268.7L900.0 268.2L902.0 269.6L904.0 270.2L906.0 270.4L908.0 271.0L910.0 270.4L912.0 269.6L914.0 269.1L916.0 268.1L918.0 268.3L920.0 268.2L922.0 268.9L924.0 269.7L926.0 268.9L928.0 270.8L930.0 270.0L932.0 270.4L934.0 269.3L936.0 268.9L938.0 268.9L940.0 267.5L942.0 268.5L944.0 269.1L946.0 269.1L948.0 270.8L950.0 270.8L952.0 270.4L954.0 269.8L956.0 270.6L958.0 268.5L960.0 267.6L962.0 268.0L964.0 268.7L966.0 269.4L968.0 270.3L970.0 270.4L972.0 271.1L974.0 270.3L976.0 269.3L978.0 268.7L980.0 268.4L982.0 268.7L984.0 268.8L986.0 269.1L988.0 270.1L990.0 270.8L992.0 271.8L994.0 270.6L996.0 270.5L998.0 269.8L1000.0 268.5L1002.0 268.5L1004.0 268.6L1006.0 268.8L1008.0 270.0L1010.0 270.9L1012.0 271.4L1014.0 271.0L1016.0 270.8L1018.0 270.9L1020.0 268.8L1022.0 268.8L1024.0 268.9L1026.0 268.9L1028.0 269.7L1030.0 270.3L1032.0 271.2L1034.0 271.7L1036.0 270.9L1038.0 270.5L1040.0 269.7L1042.0 268.9L1044.0 268.6L1046.0 268.3L1048.0 269.5L1050.0 270.6L1052.0 271.4L1054.0 271.7L1056.0 270.8L1058.0 271.5L1060.0 269.9L1062.0 269.4L1064.0 269.6L1066.0 268.3L1068.0 269.3L1070.0 269.7L1072.0 270.4L1074.0 270.7L1076.0 271.5L1078.0 271.0L1080.0 271.0L1082.0 270.4L1084.0 268.6L1086.0 268.6L1088.0 268.8L1090.0 268.9L1092.0 269.7L1094.0 270.9L1096.0 271.3L1098.0 270.7L1100.0 270.8L1102.0 270.6L1104.0 269.1L1106.0 268.7L1108.0 269.5L1110.0 269.7L1112.0 269.2L1114.0 270.0L1116.0 271.4L1118.0 271.0L1120.0 271.3L1122.0 270.6L1124.0 270.3L1126.0 268.4L1128.0 268.1L1130.0 268.6L1132.0 270.0L1134.0 270.2L1136.0 270.3L1138.0 271.7L1140.0 271.9L1142.0 271.1L1144.0 270.4L1146.0 270.0L1148.0 269.7L1150.0 269.1L1152.0 269.6L1154.0 270.0L1156.0 270.6L1158.0 271.0L1160.0 271.8L1162.0 271.4L1164.0 270.9L1166.0 270.6L1168.0 269.7L1170.0 269.5L1172.0 268.6L1174.0 270.0L1176.0 270.2L1178.0 270.9L1180.0 271.4L1182.0 272.2"/><path stroke="#ac4452" stroke-width="1.4" fill="none" d="M34.0 441.4L36.0 440.7L38.0 440.5L40.0 441.0L42.0 440.8L44.0 441.7L46.0 440.3L48.0 440.2L50.0 440.9L52.0 441.0L54.0 441.0L56.0 441.3L58.0 441.9L60.0 440.8L62.0 440.7L64.0 440.2L66.0 441.1L68.0 441.4L70.0 440.9L72.0 441.5L74.0 441.0L76.0 441.6L78.0 441.1L80.0 440.5L82.0 440.7L84.0 440.3L86.0 440.2L88.0 441.1L90.0 441.3L92.0 441.8L94.0 440.9L96.0 440.8L98.0 440.4L100.0 441.4L102.0 441.1L104.0 440.7L106.0 441.3L108.0 441.2L110.0 440.1L112.0 441.3L114.0 441.0L116.0 440.8L118.0 440.7L120.0 441.7L122.0 441.6L124.0 441.7L126.0 440.4L128.0 440.6L130.0 441.3L132.0 440.4L134.0 440.6L136.0 440.1L138.0 441.7L140.0 441.4L142.0 441.1L144.0 441.0L146.0 440.7L148.0 440.7L150.0 441.2L152.0 440.6L154.0 441.5L156.0 440.7L158.0 440.5L160.0 441.5L162.0 440.8L164.0 441.1L166.0 440.7L168.0 439.9L170.0 441.1L172.0 440.3L174.0 441.4L176.0 440.2L178.0 440.0L180.0 441.0L182.0 441.1L184.0 440.9L186.0 440.3L188.0 441.3L190.0 440.2L192.0 440.7L194.0 440.5L196.0 440.7L198.0 441.3L200.0 440.6L202.0 441.1L204.0 441.2L206.0 440.1L208.0 440.3L210.0 440.7L212.0 440.6L214.0 441.0L216.0 440.0L218.0 441.2L220.0 441.2L222.0 440.8L224.0 440.2L226.0 440.8L228.0 440.6L230.0 441.1L232.0 440.8L234.0 441.2L236.0 440.6L238.0 441.5L240.0 439.8L242.0 440.4L244.0 441.0L246.0 440.1L248.0 441.2L250.0 440.3L252.0 440.9L254.0 440.4L256.0 440.6L258.0 440.9L260.0 440.8L262.0 440.6L264.0 441.8L266.0 440.8L268.0 440.4L270.0 441.2L272.0 441.2L274.0 441.4L276.0 441.6L278.0 440.4L280.0 441.3L282.0 441.3L284.0 440.8L286.0 440.9L288.0 439.4L290.0 440.5L292.0 441.6L294.0 440.0L296.0 440.5L298.0 440.9L300.0 441.0L302.0 441.5L304.0 440.0L306.0 440.8L308.0 441.2L310.0 440.2L312.0 440.8L314.0 441.6L316.0 441.4L318.0 441.0L320.0 439.6L322.0 440.7L324.0 440.9L326.0 440.6L328.0 440.7L330.0 442.1L332.0 440.7L334.0 440.3L336.0 440.9L338.0 440.6L340.0 440.6L342.0 440.7L344.0 441.1L346.0 440.9L348.0 440.2L350.0 440.7L352.0 441.0L354.0 440.5L356.0 441.3L358.0 441.1L360.0 440.3L362.0 440.9L364.0 441.6L366.0 441.4L368.0 440.7L370.0 441.1L372.0 440.4L374.0 440.1L376.0 441.0L378.0 440.8L380.0 440.9L382.0 440.7L384.0 440.9L386.0 440.5L388.0 440.9L390.0 441.1L392.0 440.7L394.0 441.1L396.0 439.9L398.0 440.3L400.0 441.4L402.0 441.5L404.0 440.8L406.0 440.7L408.0 440.1L410.0 440.9L412.0 441.0L414.0 440.0L416.0 440.9L418.0 440.9L420.0 440.9L422.0 440.2L424.0 440.9L426.0 440.0L428.0 441.3L430.0 440.7L432.0 440.2L434.0 441.3L436.0 441.2L438.0 440.4L440.0 441.7L442.0 440.2L444.0 440.8L446.0 441.2L448.0 439.6L450.0 441.1L452.0 440.6L454.0 440.7L456.0 440.2L458.0 440.8L460.0 440.2L462.0 440.2L464.0 440.4L466.0 440.1L468.0 441.4L470.0 440.0L472.0 440.3L474.0 440.5L476.0 440.6L478.0 441.0L480.0 441.0L482.0 440.5L484.0 440.5L486.0 440.6L488.0 441.0L490.0 440.9L492.0 440.4L494.0 439.7L496.0 441.6L498.0 441.1L500.0 440.7L502.0 440.8L504.0 440.4L506.0 440.2L508.0 440.5L510.0 440.5L512.0 440.3L514.0 440.0L516.0 440.5L518.0 440.9L520.0 440.4L522.0 440.6L524.0 439.7L526.0 440.6L528.0 440.7L530.0 440.4L532.0 440.3L534.0 441.4L536.0 441.0L538.0 441.7L540.0 441.4L542.0 442.0L544.0 441.7L546.0 441.3L548.0 442.1L550.0 442.1L552.0 442.7L554.0 442.3L556.0 442.5L558.0 443.2L560.0 443.4L562.0 443.4L564.0 443.6L566.0 443.5L568.0 443.8L570.0 444.0L572.0 443.9L574.0 443.9L576.0 444.0L578.0 445.2L580.0 444.2L582.0 444.2L584.0 444.3L586.0 444.6L588.0 444.9L590.0 444.4L592.0 444.1L594.0 445.3L596.0 444.6L598.0 445.5L600.0 445.6L602.0 446.2L604.0 446.6L606.0 446.1L608.0 445.9L610.0 445.8L612.0 446.2L614.0 446.8L616.0 446.1L618.0 447.3L620.0 447.5L622.0 448.0L624.0 447.8L626.0 448.2L628.0 448.0L630.0 448.4L632.0 448.0L634.0 449.1L636.0 450.0L638.0 449.6L640.0 449.9L642.0 449.5L644.0 450.8L646.0 450.1L648.0 451.0L650.0 450.9L652.0 450.7L654.0 451.8L656.0 451.6L658.0 451.9L660.0 452.2L662.0 452.1L664.0 452.1L666.0 452.6L668.0 452.3L670.0 452.6L672.0 452.4L674.0 452.1L676.0 452.6L678.0 452.8L680.0 453.2L682.0 453.8L684.0 452.6L686.0 453.6L688.0 452.6L690.0 453.3L692.0 453.6L694.0 453.0L696.0 453.2L698.0 454.3L700.0 454.3L702.0 454.4L704.0 454.2L706.0 455.6L708.0 454.7L710.0 454.5L712.0 455.8L714.0 455.4L716.0 455.1L718.0 455.9L720.0 455.5L722.0 455.9L724.0 455.8L726.0 455.2L728.0 456.1L730.0 455.8L732.0 455.2L734.0 455.4L736.0 456.1L738.0 455.5L740.0 455.7L742.0 456.0L744.0 455.8L746.0 455.0L748.0 456.0L750.0 456.1L752.0 456.1L754.0 456.4L756.0 455.9L758.0 456.0L760.0 456.4L762.0 455.7L764.0 456.8L766.0 457.0L768.0 456.8L770.0 457.5L772.0 457.3L774.0 456.7L776.0 457.8L778.0 457.7L780.0 457.9L782.0 458.0L784.0 458.8L786.0 458.6L788.0 458.3L790.0 459.0L792.0 459.3L794.0 458.9L796.0 459.2L798.0 459.5L800.0 459.6L802.0 460.2L804.0 460.7L806.0 461.4L808.0 461.3L810.0 461.4L812.0 461.7L814.0 462.0L816.0 461.5L818.0 462.2L820.0 462.2L822.0 462.3L824.0 462.3L826.0 462.6L828.0 462.9L830.0 462.7L832.0 463.7L834.0 463.7L836.0 464.0L838.0 464.3L840.0 464.7L842.0 464.3L844.0 464.8L846.0 464.3L848.0 464.3L850.0 464.6L852.0 466.4L854.0 465.2L856.0 466.4L858.0 467.1L860.0 466.5L862.0 467.6L864.0 467.8L866.0 467.4L868.0 468.1L870.0 467.3L872.0 466.7L874.0 467.3L876.0 466.8L878.0 466.4L880.0 466.5L882.0 468.1L884.0 466.8L886.0 467.0L888.0 466.7L890.0 467.1L892.0 466.9L894.0 466.9L896.0 466.5L898.0 466.4L900.0 466.7L902.0 467.2L904.0 468.0L906.0 467.5L908.0 467.9L910.0 467.3L912.0 467.0L914.0 466.5L916.0 467.1L918.0 466.1L920.0 467.0L922.0 467.8L924.0 467.3L926.0 467.6L928.0 466.9L930.0 466.5L932.0 466.9L934.0 466.9L936.0 467.7L938.0 468.0L940.0 466.8L942.0 467.0L944.0 467.1L946.0 467.0L948.0 466.6L950.0 467.2L952.0 467.3L954.0 467.3L956.0 466.6L958.0 467.1L960.0 466.4L962.0 467.6L964.0 466.7L966.0 467.0L968.0 467.0L970.0 466.9L972.0 466.7L974.0 466.4L976.0 468.0L978.0 467.3L980.0 467.3L982.0 468.1L984.0 467.2L986.0 467.5L988.0 467.2L990.0 467.7L992.0 467.4L994.0 467.4L996.0 467.1L998.0 467.4L1000.0 467.8L1002.0 466.3L1004.0 467.2L1006.0 467.0L1008.0 467.1L1010.0 466.4L1012.0 467.6L1014.0 466.9L1016.0 467.2L1018.0 467.0L1020.0 466.5L1022.0 467.1L1024.0 466.4L1026.0 466.8L1028.0 467.1L1030.0 467.3L1032.0 467.3L1034.0 467.2L1036.0 468.2L1038.0 467.5L1040.0 466.7L1042.0 467.0L1044.0 467.0L1046.0 467.2L1048.0 467.0L1050.0 466.9L1052.0 468.1L1054.0 467.3L1056.0 467.2L1058.0 467.2L1060.0 467.2L1062.0 468.0L1064.0 467.5L1066.0 467.8L1068.0 465.9L1070.0 467.5L1072.0 467.8L1074.0 468.2L1076.0 467.4L1078.0 466.6L1080.0 467.6L1082.0 467.1L1084.0 466.6L1086.0 467.1L1088.0 467.8L1090.0 467.9L1092.0 467.7L1094.0 466.9L1096.0 468.5L1098.0 466.9L1100.0 467.4L1102.0 466.7L1104.0 468.0L1106.0 467.6L1108.0 467.8L1110.0 467.4L1112.0 467.4L1114.0 467.5L1116.0 466.6L1118.0 467.9L1120.0 467.8L1122.0 467.2L1124.0 467.4L1126.0 467.6L1128.0 468.1L1130.0 467.6L1132.0 467.5L1134.0 467.2L1136.0 466.8L1138.0 467.2L1140.0 467.5L1142.0 467.3L1144.0 467.5L1146.0 467.8L1148.0 467.7L1150.0 467.6L1152.0 467.8L1154.0 467.6L1156.0 467.5L1158.0 467.7L1160.0 466.7L1162.0 468.1L1164.0 466.9L1166.0 467.9L1168.0 467.5L1170.0 468.0L1172.0 467.5L1174.0 467.1L1176.0 468.0L1178.0 467.6L1180.0 467.6L1182.0 467.6"/><path stroke="#2e7f74" stroke-width="2" fill="none" d="M34.0 489.9L36.0 489.8L38.0 489.6L40.0 489.0L42.0 489.4L44.0 489.5L46.0 490.1L48.0 489.6L50.0 489.5L52.0 489.9L54.0 489.5L56.0 489.5L58.0 489.6L60.0 489.0L62.0 489.8L64.0 489.6L66.0 489.4L68.0 489.1L70.0 489.6L72.0 490.0L74.0 489.3L76.0 489.1L78.0 489.6L80.0 488.9L82.0 488.7L84.0 489.3L86.0 489.2L88.0 489.4L90.0 489.3L92.0 489.6L94.0 489.4L96.0 489.3L98.0 489.3L100.0 489.7L102.0 489.8L104.0 489.8L106.0 489.7L108.0 488.3L110.0 489.1L112.0 489.3L114.0 489.5L116.0 488.9L118.0 489.9L120.0 489.5L122.0 489.2L124.0 489.5L126.0 489.3L128.0 489.2L130.0 489.6L132.0 489.3L134.0 488.9L136.0 489.2L138.0 489.4L140.0 489.0L142.0 489.9L144.0 489.0L146.0 490.0L148.0 489.7L150.0 489.1L152.0 489.5L154.0 489.8L156.0 489.3L158.0 489.0L160.0 489.4L162.0 490.1L164.0 488.9L166.0 489.6L168.0 489.4L170.0 489.4L172.0 489.3L174.0 489.3L176.0 489.8L178.0 489.6L180.0 489.0L182.0 489.9L184.0 488.9L186.0 489.6L188.0 489.4L190.0 489.8L192.0 489.5L194.0 489.7L196.0 489.4L198.0 489.7L200.0 489.5L202.0 490.1L204.0 489.1L206.0 489.8L208.0 489.5L210.0 489.4L212.0 489.2L214.0 489.5L216.0 488.8L218.0 488.9L220.0 489.6L222.0 488.8L224.0 489.8L226.0 489.2L228.0 489.4L230.0 489.4L232.0 489.5L234.0 489.2L236.0 489.2L238.0 489.3L240.0 489.7L242.0 489.7L244.0 489.8L246.0 489.5L248.0 489.3L250.0 488.7L252.0 489.5L254.0 489.6L256.0 489.2L258.0 489.6L260.0 489.8L262.0 489.3L264.0 489.7L266.0 489.4L268.0 488.7L270.0 489.1L272.0 489.2L274.0 489.5L276.0 489.0L278.0 489.1L280.0 489.0L282.0 489.3L284.0 489.3L286.0 489.6L288.0 489.6L290.0 489.3L292.0 489.4L294.0 489.3L296.0 489.3L298.0 489.8L300.0 488.4L302.0 489.2L304.0 489.4L306.0 489.7L308.0 488.9L310.0 489.4L312.0 489.6L314.0 489.1L316.0 488.6L318.0 489.1L320.0 488.8L322.0 489.5L324.0 489.0L326.0 489.9L328.0 489.3L330.0 489.0L332.0 489.1L334.0 488.9L336.0 489.4L338.0 489.8L340.0 489.2L342.0 489.6L344.0 488.9L346.0 489.3L348.0 490.0L350.0 488.7L352.0 489.7L354.0 489.6L356.0 488.6L358.0 488.7L360.0 488.9L362.0 489.6L364.0 489.1L366.0 489.2L368.0 489.5L370.0 489.2L372.0 489.3L374.0 489.1L376.0 489.6L378.0 488.9L380.0 489.8L382.0 489.1L384.0 488.9L386.0 489.4L388.0 489.3L390.0 488.5L392.0 489.3L394.0 488.7L396.0 488.9L398.0 489.5L400.0 488.9L402.0 489.3L404.0 489.0L406.0 489.8L408.0 489.1L410.0 488.8L412.0 488.8L414.0 488.8L416.0 489.2L418.0 489.2L420.0 489.5L422.0 489.2L424.0 489.2L426.0 489.3L428.0 489.1L430.0 489.2L432.0 489.4L434.0 489.4L436.0 489.0L438.0 488.5L440.0 488.9L442.0 489.2L444.0 488.3L446.0 489.0L448.0 489.3L450.0 488.9L452.0 488.7L454.0 489.7L456.0 489.6L458.0 489.0L460.0 489.6L462.0 489.6L464.0 488.7L466.0 490.0L468.0 488.8L470.0 489.0L472.0 488.7L474.0 489.1L476.0 488.6L478.0 489.1L480.0 489.5L482.0 489.2L484.0 489.0L486.0 489.6L488.0 488.8L490.0 489.4L492.0 489.0L494.0 489.2L496.0 489.1L498.0 489.1L500.0 489.1L502.0 488.8L504.0 488.9L506.0 489.2L508.0 489.0L510.0 488.7L512.0 488.8L514.0 488.8L516.0 489.0L518.0 489.1L520.0 489.1L522.0 488.8L524.0 489.1L526.0 488.6L528.0 488.0L530.0 489.0L532.0 488.5L534.0 488.7L536.0 488.6L538.0 489.3L540.0 488.6L542.0 489.1L544.0 488.9L546.0 488.6L548.0 488.5L550.0 489.2L552.0 489.2L554.0 489.3L556.0 489.7L558.0 489.1L560.0 489.1L562.0 488.9L564.0 488.8L566.0 488.6L568.0 488.3L570.0 489.2L572.0 487.7L574.0 488.3L576.0 488.3L578.0 488.1L580.0 487.6L582.0 487.7L584.0 487.5L586.0 487.2L588.0 487.4L590.0 487.2L592.0 487.0L594.0 487.4L596.0 486.7L598.0 487.1L600.0 486.6L602.0 486.8L604.0 486.6L606.0 486.5L608.0 486.0L610.0 485.9L612.0 485.8L614.0 486.0L616.0 486.1L618.0 486.1L620.0 485.5L622.0 485.6L624.0 484.8L626.0 484.5L628.0 484.9L630.0 484.8L632.0 484.4L634.0 484.2L636.0 484.9L638.0 484.3L640.0 484.0L642.0 485.3L644.0 484.6L646.0 484.4L648.0 484.7L650.0 484.2L652.0 484.9L654.0 483.8L656.0 483.9L658.0 484.3L660.0 484.0L662.0 484.7L664.0 483.7L666.0 483.9L668.0 484.2L670.0 484.3L672.0 484.5L674.0 484.2L676.0 484.8L678.0 483.9L680.0 484.1L682.0 484.3L684.0 483.8L686.0 483.8L688.0 483.7L690.0 483.6L692.0 483.4L694.0 483.6L696.0 483.2L698.0 483.9L700.0 483.1L702.0 484.4L704.0 484.2L706.0 484.0L708.0 483.5L710.0 483.4L712.0 484.0L714.0 483.6L716.0 483.7L718.0 483.2L720.0 483.8L722.0 483.1L724.0 483.4L726.0 482.7L728.0 483.1L730.0 483.4L732.0 483.1L734.0 483.1L736.0 483.5L738.0 483.1L740.0 483.6L742.0 482.3L744.0 483.3L746.0 483.2L748.0 482.5L750.0 482.5L752.0 483.3L754.0 482.5L756.0 482.7L758.0 483.1L760.0 482.7L762.0 482.9L764.0 482.4L766.0 482.8L768.0 483.1L770.0 482.8L772.0 481.9L774.0 482.8L776.0 482.6L778.0 482.2L780.0 483.0L782.0 481.8L784.0 483.1L786.0 482.2L788.0 482.9L790.0 482.3L792.0 481.8L794.0 482.3L796.0 482.3L798.0 482.4L800.0 482.5L802.0 481.8L804.0 482.3L806.0 482.3L808.0 481.9L810.0 481.7L812.0 481.6L814.0 482.2L816.0 482.2L818.0 481.6L820.0 481.3L822.0 482.2L824.0 481.2L826.0 481.8L828.0 481.4L830.0 481.0L832.0 481.7L834.0 481.5L836.0 482.0L838.0 482.3L840.0 481.4L842.0 481.8L844.0 481.8L846.0 481.2L848.0 481.0L850.0 481.9L852.0 481.2L854.0 481.2L856.0 481.1L858.0 481.1L860.0 480.9L862.0 481.4L864.0 481.5L866.0 480.9L868.0 480.5L870.0 481.0L872.0 480.4L874.0 480.7L876.0 481.3L878.0 481.7L880.0 480.9L882.0 480.4L884.0 481.0L886.0 479.9L888.0 480.4L890.0 481.2L892.0 480.9L894.0 480.1L896.0 480.0L898.0 480.8L900.0 480.5L902.0 480.3L904.0 480.6L906.0 480.3L908.0 479.8L910.0 480.7L912.0 480.2L914.0 480.1L916.0 480.0L918.0 480.5L920.0 480.2L922.0 480.7L924.0 480.3L926.0 480.8L928.0 480.3L930.0 480.2L932.0 479.7L934.0 480.0L936.0 480.7L938.0 481.5L940.0 480.0L942.0 480.0L944.0 480.5L946.0 480.6L948.0 480.2L950.0 480.4L952.0 479.8L954.0 480.3L956.0 480.7L958.0 480.9L960.0 480.3L962.0 480.3L964.0 480.5L966.0 480.7L968.0 480.5L970.0 480.1L972.0 480.5L974.0 480.7L976.0 480.1L978.0 479.9L980.0 480.5L982.0 480.5L984.0 480.7L986.0 480.4L988.0 480.1L990.0 480.2L992.0 480.0L994.0 480.0L996.0 480.1L998.0 480.1L1000.0 480.7L1002.0 479.9L1004.0 480.3L1006.0 480.1L1008.0 480.8L1010.0 480.4L1012.0 480.2L1014.0 480.6L1016.0 480.3L1018.0 480.1L1020.0 480.8L1022.0 480.5L1024.0 480.9L1026.0 480.7L1028.0 480.5L1030.0 480.3L1032.0 479.9L1034.0 480.5L1036.0 480.3L1038.0 480.5L1040.0 480.2L1042.0 480.0L1044.0 479.9L1046.0 480.5L1048.0 480.7L1050.0 480.1L1052.0 480.4L1054.0 480.7L1056.0 479.9L1058.0 480.1L1060.0 479.8L1062.0 480.6L1064.0 480.3L1066.0 480.0L1068.0 479.6L1070.0 480.1L1072.0 480.5L1074.0 480.1L1076.0 480.0L1078.0 480.4L1080.0 479.7L1082.0 480.2L1084.0 480.4L1086.0 479.9L1088.0 479.9L1090.0 480.2L1092.0 480.1L1094.0 480.1L1096.0 480.2L1098.0 480.2L1100.0 479.8L1102.0 479.9L1104.0 480.3L1106.0 480.5L1108.0 480.6L1110.0 479.8L1112.0 480.5L1114.0 480.4L1116.0 480.1L1118.0 480.3L1120.0 480.4L1122.0 480.7L1124.0 479.7L1126.0 480.3L1128.0 480.0L1130.0 480.0L1132.0 480.5L1134.0 480.4L1136.0 479.7L1138.0 480.0L1140.0 480.1L1142.0 479.6L1144.0 480.4L1146.0 480.0L1148.0 480.1L1150.0 480.2L1152.0 480.7L1154.0 480.1L1156.0 479.9L1158.0 480.6L1160.0 479.9L1162.0 479.8L1164.0 479.5L1166.0 480.4L1168.0 480.1L1170.0 480.2L1172.0 480.1L1174.0 480.0L1176.0 479.7L1178.0 479.7L1180.0 480.1L1182.0 480.0"/><rect x="34.0" y="527" width="1149.0" height="69" fill="#f0efca"/><path fill="#d6d3a4" fill-opacity="0.8" d="M34.0 541.2L37.0 543.5L40.0 545.8L43.0 548.1L46.0 550.2L49.0 552.1L52.0 553.7L55.0 555.1L58.0 556.1L61.0 556.8L64.0 557.0L67.0 556.8L70.0 556.3L73.0 555.3L76.0 554.0L79.0 552.4L82.0 550.5L85.0 548.5L88.0 546.3L91.0 544.0L94.0 541.7L97.0 539.5L100.0 537.5L103.0 535.6L106.0 534.0L109.0 532.7L112.0 531.8L115.0 531.2L118.0 531.0L121.0 531.2L124.0 531.8L127.0 532.8L130.0 534.1L133.0 535.7L136.0 537.6L139.0 539.7L142.0 541.8L145.0 544.1L148.0 546.3L151.0 548.5L154.0 550.5L157.0 552.4L160.0 554.0L163.0 555.3L166.0 556.2L169.0 556.8L172.0 557.0L175.0 556.8L178.0 556.3L181.0 555.3L184.0 554.1L187.0 552.5L190.0 550.7L193.0 548.7L196.0 546.6L199.0 544.4L202.0 542.2L205.0 540.0L208.0 538.0L211.0 536.1L214.0 534.5L217.0 533.1L220.0 532.1L223.0 531.4L226.0 531.0L229.0 531.1L232.0 531.5L235.0 532.2L238.0 533.3L241.0 534.7L244.0 536.4L247.0 538.2L250.0 540.2L253.0 542.4L256.0 544.6L259.0 546.7L262.0 548.8L265.0 550.7L268.0 552.5L271.0 554.0L274.0 555.2L277.0 556.2L280.0 556.8L283.0 557.0L286.0 556.9L289.0 556.4L292.0 555.6L295.0 554.5L298.0 553.1L301.0 551.4L304.0 549.6L307.0 547.6L310.0 545.5L313.0 543.4L316.0 541.2L319.0 539.2L322.0 537.3L325.0 535.6L328.0 534.1L331.0 532.9L334.0 531.9L337.0 531.3L340.0 531.0L343.0 531.1L346.0 531.5L349.0 532.2L352.0 533.2L355.0 534.6L358.0 536.1L361.0 537.9L364.0 539.8L367.0 541.8L370.0 543.9L373.0 546.0L376.0 548.0L379.0 549.9L382.0 551.7L385.0 553.3L388.0 554.6L391.0 555.7L394.0 556.4L397.0 556.9L400.0 557.0L403.0 556.8L406.0 556.3L409.0 555.4L412.0 554.3L415.0 552.9L418.0 551.3L421.0 549.5L424.0 547.6L427.0 545.5L430.0 543.5L433.0 541.5L436.0 539.5L439.0 537.6L442.0 535.9L445.0 534.4L448.0 533.2L451.0 532.2L454.0 531.5L457.0 531.1L460.0 531.0L463.0 531.3L466.0 531.8L469.0 532.7L472.0 533.8L475.0 535.2L478.0 536.8L481.0 538.6L484.0 540.5L487.0 542.5L490.0 544.6L493.0 546.6L496.0 548.5L499.0 550.4L502.0 552.1L505.0 553.5L508.0 554.8L511.0 555.8L514.0 556.5L517.0 556.9L520.0 557.0L523.0 556.8L526.0 556.2L529.0 555.4L532.0 554.3L535.0 552.9L538.0 551.3L541.0 549.6L544.0 547.7L547.0 545.7L550.0 543.6L553.0 541.6L556.0 539.7L559.0 537.8L562.0 536.1L565.0 534.6L568.0 533.3L571.0 532.3L574.0 531.6L577.0 531.1L580.0 531.0L583.0 531.2L586.0 531.7L589.0 532.5L592.0 533.6L595.0 535.0L598.0 536.6L601.0 538.3L604.0 540.2L607.0 542.2L610.0 544.2L613.0 546.3L616.0 548.3L619.0 550.1L622.0 551.9L625.0 553.4L628.0 554.7L631.0 555.7L634.0 556.5L637.0 556.9L640.0 557.0L643.0 556.8L646.0 556.2L649.0 555.4L652.0 554.3L655.0 552.9L658.0 551.3L661.0 549.5L664.0 547.5L667.0 545.5L670.0 543.4L673.0 541.4L676.0 539.4L679.0 537.5L682.0 535.8L685.0 534.3L688.0 533.1L691.0 532.1L694.0 531.4L697.0 531.1L700.0 531.0L703.0 531.4L706.0 532.0L709.0 533.0L712.0 534.2L715.0 535.7L718.0 537.4L721.0 539.3L724.0 541.3L727.0 543.4L730.0 545.5L733.0 547.6L736.0 549.6L739.0 551.4L742.0 553.1L745.0 554.4L748.0 555.6L751.0 556.4L754.0 556.9L757.0 557.0L760.0 556.8L763.0 556.2L766.0 555.3L769.0 554.1L772.0 552.7L775.0 551.0L778.0 549.1L781.0 547.0L784.0 544.9L787.0 542.7L790.0 540.6L793.0 538.6L796.0 536.7L799.0 535.0L802.0 533.6L805.0 532.4L808.0 531.6L811.0 531.1L814.0 531.0L817.0 531.2L820.0 531.8L823.0 532.8L826.0 534.1L829.0 535.6L832.0 537.4L835.0 539.4L838.0 541.5L841.0 543.6L844.0 545.8L847.0 548.0L850.0 550.0L853.0 551.9L856.0 553.5L859.0 554.9L862.0 555.9L865.0 556.6L868.0 557.0L871.0 556.9L874.0 556.5L877.0 555.7L880.0 554.6L883.0 553.2L886.0 551.4L889.0 549.5L892.0 547.4L895.0 545.2L898.0 543.0L901.0 540.8L904.0 538.7L907.0 536.7L910.0 535.0L913.0 533.5L916.0 532.3L919.0 531.5L922.0 531.1L925.0 531.0L928.0 531.4L931.0 532.1L934.0 533.2L937.0 534.6L940.0 536.3L943.0 538.2L946.0 540.4L949.0 542.6L952.0 544.9L955.0 547.1L958.0 549.3L961.0 551.3L964.0 553.0L967.0 554.5L970.0 555.7L973.0 556.5L976.0 556.9L979.0 557.0L982.0 556.6L985.0 555.8L988.0 554.7L991.0 553.2L994.0 551.5L997.0 549.5L1000.0 547.4L1003.0 545.1L1006.0 542.8L1009.0 540.6L1012.0 538.4L1015.0 536.4L1018.0 534.7L1021.0 533.2L1024.0 532.1L1027.0 531.4L1030.0 531.0L1033.0 531.1L1036.0 531.5L1039.0 532.4L1042.0 533.6L1045.0 535.2L1048.0 537.0L1051.0 539.0L1054.0 541.2L1057.0 543.5L1060.0 545.8L1063.0 548.0L1066.0 550.2L1069.0 552.1L1072.0 553.7L1075.0 555.1L1078.0 556.1L1081.0 556.8L1084.0 557.0L1087.0 556.8L1090.0 556.3L1093.0 555.3L1096.0 554.0L1099.0 552.4L1102.0 550.5L1105.0 548.4L1108.0 546.2L1111.0 543.9L1114.0 541.6L1117.0 539.4L1120.0 537.3L1123.0 535.4L1126.0 533.9L1129.0 532.6L1132.0 531.7L1135.0 531.1L1138.0 531.0L1141.0 531.3L1144.0 531.9L1147.0 533.0L1150.0 534.4L1153.0 536.0L1156.0 538.0L1159.0 540.1L1162.0 542.3L1165.0 544.6L1168.0 546.9L1171.0 549.0L1174.0 551.0L1177.0 552.8L1180.0 554.4L1183.0 555.6L1183.0 577.6L1180.0 576.4L1177.0 574.8L1174.0 573.0L1171.0 571.0L1168.0 568.9L1165.0 566.6L1162.0 564.3L1159.0 562.1L1156.0 560.0L1153.0 558.0L1150.0 556.4L1147.0 555.0L1144.0 553.9L1141.0 553.3L1138.0 553.0L1135.0 553.1L1132.0 553.7L1129.0 554.6L1126.0 555.9L1123.0 557.4L1120.0 559.3L1117.0 561.4L1114.0 563.6L1111.0 565.9L1108.0 568.2L1105.0 570.4L1102.0 572.5L1099.0 574.4L1096.0 576.0L1093.0 577.3L1090.0 578.3L1087.0 578.8L1084.0 579.0L1081.0 578.8L1078.0 578.1L1075.0 577.1L1072.0 575.7L1069.0 574.1L1066.0 572.2L1063.0 570.0L1060.0 567.8L1057.0 565.5L1054.0 563.2L1051.0 561.0L1048.0 559.0L1045.0 557.2L1042.0 555.6L1039.0 554.4L1036.0 553.5L1033.0 553.1L1030.0 553.0L1027.0 553.4L1024.0 554.1L1021.0 555.2L1018.0 556.7L1015.0 558.4L1012.0 560.4L1009.0 562.6L1006.0 564.8L1003.0 567.1L1000.0 569.4L997.0 571.5L994.0 573.5L991.0 575.2L988.0 576.7L985.0 577.8L982.0 578.6L979.0 579.0L976.0 578.9L973.0 578.5L970.0 577.7L967.0 576.5L964.0 575.0L961.0 573.3L958.0 571.3L955.0 569.1L952.0 566.9L949.0 564.6L946.0 562.4L943.0 560.2L940.0 558.3L937.0 556.6L934.0 555.2L931.0 554.1L928.0 553.4L925.0 553.0L922.0 553.1L919.0 553.5L916.0 554.3L913.0 555.5L910.0 557.0L907.0 558.7L904.0 560.7L901.0 562.8L898.0 565.0L895.0 567.2L892.0 569.4L889.0 571.5L886.0 573.4L883.0 575.2L880.0 576.6L877.0 577.7L874.0 578.5L871.0 578.9L868.0 579.0L865.0 578.6L862.0 577.9L859.0 576.9L856.0 575.5L853.0 573.9L850.0 572.0L847.0 570.0L844.0 567.8L841.0 565.6L838.0 563.5L835.0 561.4L832.0 559.4L829.0 557.6L826.0 556.1L823.0 554.8L820.0 553.8L817.0 553.2L814.0 553.0L811.0 553.1L808.0 553.6L805.0 554.4L802.0 555.6L799.0 557.0L796.0 558.7L793.0 560.6L790.0 562.6L787.0 564.7L784.0 566.9L781.0 569.0L778.0 571.1L775.0 573.0L772.0 574.7L769.0 576.1L766.0 577.3L763.0 578.2L760.0 578.8L757.0 579.0L754.0 578.9L751.0 578.4L748.0 577.6L745.0 576.4L742.0 575.1L739.0 573.4L736.0 571.6L733.0 569.6L730.0 567.5L727.0 565.4L724.0 563.3L721.0 561.3L718.0 559.4L715.0 557.7L712.0 556.2L709.0 555.0L706.0 554.0L703.0 553.4L700.0 553.0L697.0 553.1L694.0 553.4L691.0 554.1L688.0 555.1L685.0 556.3L682.0 557.8L679.0 559.5L676.0 561.4L673.0 563.4L670.0 565.4L667.0 567.5L664.0 569.5L661.0 571.5L658.0 573.3L655.0 574.9L652.0 576.3L649.0 577.4L646.0 578.2L643.0 578.8L640.0 579.0L637.0 578.9L634.0 578.5L631.0 577.7L628.0 576.7L625.0 575.4L622.0 573.9L619.0 572.1L616.0 570.3L613.0 568.3L610.0 566.2L607.0 564.2L604.0 562.2L601.0 560.3L598.0 558.6L595.0 557.0L592.0 555.6L589.0 554.5L586.0 553.7L583.0 553.2L580.0 553.0L577.0 553.1L574.0 553.6L571.0 554.3L568.0 555.3L565.0 556.6L562.0 558.1L559.0 559.8L556.0 561.7L553.0 563.6L550.0 565.6L547.0 567.7L544.0 569.7L541.0 571.6L538.0 573.3L535.0 574.9L532.0 576.3L529.0 577.4L526.0 578.2L523.0 578.8L520.0 579.0L517.0 578.9L514.0 578.5L511.0 577.8L508.0 576.8L505.0 575.5L502.0 574.1L499.0 572.4L496.0 570.5L493.0 568.6L490.0 566.6L487.0 564.5L484.0 562.5L481.0 560.6L478.0 558.8L475.0 557.2L472.0 555.8L469.0 554.7L466.0 553.8L463.0 553.3L460.0 553.0L457.0 553.1L454.0 553.5L451.0 554.2L448.0 555.2L445.0 556.4L442.0 557.9L439.0 559.6L436.0 561.5L433.0 563.5L430.0 565.5L427.0 567.5L424.0 569.6L421.0 571.5L418.0 573.3L415.0 574.9L412.0 576.3L409.0 577.4L406.0 578.3L403.0 578.8L400.0 579.0L397.0 578.9L394.0 578.4L391.0 577.7L388.0 576.6L385.0 575.3L382.0 573.7L379.0 571.9L376.0 570.0L373.0 568.0L370.0 565.9L367.0 563.8L364.0 561.8L361.0 559.9L358.0 558.1L355.0 556.6L352.0 555.2L349.0 554.2L346.0 553.5L343.0 553.1L340.0 553.0L337.0 553.3L334.0 553.9L331.0 554.9L328.0 556.1L325.0 557.6L322.0 559.3L319.0 561.2L316.0 563.2L313.0 565.4L310.0 567.5L307.0 569.6L304.0 571.6L301.0 573.4L298.0 575.1L295.0 576.5L292.0 577.6L289.0 578.4L286.0 578.9L283.0 579.0L280.0 578.8L277.0 578.2L274.0 577.2L271.0 576.0L268.0 574.5L265.0 572.7L262.0 570.8L259.0 568.7L256.0 566.6L253.0 564.4L250.0 562.2L247.0 560.2L244.0 558.4L241.0 556.7L238.0 555.3L235.0 554.2L232.0 553.5L229.0 553.1L226.0 553.0L223.0 553.4L220.0 554.1L217.0 555.1L214.0 556.5L211.0 558.1L208.0 560.0L205.0 562.0L202.0 564.2L199.0 566.4L196.0 568.6L193.0 570.7L190.0 572.7L187.0 574.5L184.0 576.1L181.0 577.3L178.0 578.3L175.0 578.8L172.0 579.0L169.0 578.8L166.0 578.2L163.0 577.3L160.0 576.0L157.0 574.4L154.0 572.5L151.0 570.5L148.0 568.3L145.0 566.1L142.0 563.8L139.0 561.7L136.0 559.6L133.0 557.7L130.0 556.1L127.0 554.8L124.0 553.8L121.0 553.2L118.0 553.0L115.0 553.2L112.0 553.8L109.0 554.7L106.0 556.0L103.0 557.6L100.0 559.5L97.0 561.5L94.0 563.7L91.0 566.0L88.0 568.3L85.0 570.5L82.0 572.5L79.0 574.4L76.0 576.0L73.0 577.3L70.0 578.3L67.0 578.8L64.0 579.0L61.0 578.8L58.0 578.1L55.0 577.1L52.0 575.7L49.0 574.1L46.0 572.2L43.0 570.1L40.0 567.8L37.0 565.5L34.0 563.2ZM34.0 546.8L37.0 544.5L40.0 542.2L43.0 539.9L46.0 537.8L49.0 535.9L52.0 534.3L55.0 532.9L58.0 531.9L61.0 531.2L64.0 531.0L67.0 531.2L70.0 531.7L73.0 532.7L76.0 534.0L79.0 535.6L82.0 537.5L85.0 539.5L88.0 541.7L91.0 544.0L94.0 546.3L97.0 548.5L100.0 550.5L103.0 552.4L106.0 554.0L109.0 555.3L112.0 556.2L115.0 556.8L118.0 557.0L121.0 556.8L124.0 556.2L127.0 555.2L130.0 553.9L133.0 552.3L136.0 550.4L139.0 548.3L142.0 546.2L145.0 543.9L148.0 541.7L151.0 539.5L154.0 537.5L157.0 535.6L160.0 534.0L163.0 532.7L166.0 531.8L169.0 531.2L172.0 531.0L175.0 531.2L178.0 531.7L181.0 532.7L184.0 533.9L187.0 535.5L190.0 537.3L193.0 539.3L196.0 541.4L199.0 543.6L202.0 545.8L205.0 548.0L208.0 550.0L211.0 551.9L214.0 553.5L217.0 554.9L220.0 555.9L223.0 556.6L226.0 557.0L229.0 556.9L232.0 556.5L235.0 555.8L238.0 554.7L241.0 553.3L244.0 551.6L247.0 549.8L250.0 547.8L253.0 545.6L256.0 543.4L259.0 541.3L262.0 539.2L265.0 537.3L268.0 535.5L271.0 534.0L274.0 532.8L277.0 531.8L280.0 531.2L283.0 531.0L286.0 531.1L289.0 531.6L292.0 532.4L295.0 533.5L298.0 534.9L301.0 536.6L304.0 538.4L307.0 540.4L310.0 542.5L313.0 544.6L316.0 546.8L319.0 548.8L322.0 550.7L325.0 552.4L328.0 553.9L331.0 555.1L334.0 556.1L337.0 556.7L340.0 557.0L343.0 556.9L346.0 556.5L349.0 555.8L352.0 554.8L355.0 553.4L358.0 551.9L361.0 550.1L364.0 548.2L367.0 546.2L370.0 544.1L373.0 542.0L376.0 540.0L379.0 538.1L382.0 536.3L385.0 534.7L388.0 533.4L391.0 532.3L394.0 531.6L397.0 531.1L400.0 531.0L403.0 531.2L406.0 531.7L409.0 532.6L412.0 533.7L415.0 535.1L418.0 536.7L421.0 538.5L424.0 540.4L427.0 542.5L430.0 544.5L433.0 546.5L436.0 548.5L439.0 550.4L442.0 552.1L445.0 553.6L448.0 554.8L451.0 555.8L454.0 556.5L457.0 556.9L460.0 557.0L463.0 556.7L466.0 556.2L469.0 555.3L472.0 554.2L475.0 552.8L478.0 551.2L481.0 549.4L484.0 547.5L487.0 545.5L490.0 543.4L493.0 541.4L496.0 539.5L499.0 537.6L502.0 535.9L505.0 534.5L508.0 533.2L511.0 532.2L514.0 531.5L517.0 531.1L520.0 531.0L523.0 531.2L526.0 531.8L529.0 532.6L532.0 533.7L535.0 535.1L538.0 536.7L541.0 538.4L544.0 540.3L547.0 542.3L550.0 544.4L553.0 546.4L556.0 548.3L559.0 550.2L562.0 551.9L565.0 553.4L568.0 554.7L571.0 555.7L574.0 556.4L577.0 556.9L580.0 557.0L583.0 556.8L586.0 556.3L589.0 555.5L592.0 554.4L595.0 553.0L598.0 551.4L601.0 549.7L604.0 547.8L607.0 545.8L610.0 543.8L613.0 541.7L616.0 539.7L619.0 537.9L622.0 536.1L625.0 534.6L628.0 533.3L631.0 532.3L634.0 531.5L637.0 531.1L640.0 531.0L643.0 531.2L646.0 531.8L649.0 532.6L652.0 533.7L655.0 535.1L658.0 536.7L661.0 538.5L664.0 540.5L667.0 542.5L670.0 544.6L673.0 546.6L676.0 548.6L679.0 550.5L682.0 552.2L685.0 553.7L688.0 554.9L691.0 555.9L694.0 556.6L697.0 556.9L700.0 557.0L703.0 556.6L706.0 556.0L709.0 555.0L712.0 553.8L715.0 552.3L718.0 550.6L721.0 548.7L724.0 546.7L727.0 544.6L730.0 542.5L733.0 540.4L736.0 538.4L739.0 536.6L742.0 534.9L745.0 533.6L748.0 532.4L751.0 531.6L754.0 531.1L757.0 531.0L760.0 531.2L763.0 531.8L766.0 532.7L769.0 533.9L772.0 535.3L775.0 537.0L778.0 538.9L781.0 541.0L784.0 543.1L787.0 545.3L790.0 547.4L793.0 549.4L796.0 551.3L799.0 553.0L802.0 554.4L805.0 555.6L808.0 556.4L811.0 556.9L814.0 557.0L817.0 556.8L820.0 556.2L823.0 555.2L826.0 553.9L829.0 552.4L832.0 550.6L835.0 548.6L838.0 546.5L841.0 544.4L844.0 542.2L847.0 540.0L850.0 538.0L853.0 536.1L856.0 534.5L859.0 533.1L862.0 532.1L865.0 531.4L868.0 531.0L871.0 531.1L874.0 531.5L877.0 532.3L880.0 533.4L883.0 534.8L886.0 536.6L889.0 538.5L892.0 540.6L895.0 542.8L898.0 545.0L901.0 547.2L904.0 549.3L907.0 551.3L910.0 553.0L913.0 554.5L916.0 555.7L919.0 556.5L922.0 556.9L925.0 557.0L928.0 556.6L931.0 555.9L934.0 554.8L937.0 553.4L940.0 551.7L943.0 549.8L946.0 547.6L949.0 545.4L952.0 543.1L955.0 540.9L958.0 538.7L961.0 536.7L964.0 535.0L967.0 533.5L970.0 532.3L973.0 531.5L976.0 531.1L979.0 531.0L982.0 531.4L985.0 532.2L988.0 533.3L991.0 534.8L994.0 536.5L997.0 538.5L1000.0 540.6L1003.0 542.9L1006.0 545.2L1009.0 547.4L1012.0 549.6L1015.0 551.6L1018.0 553.3L1021.0 554.8L1024.0 555.9L1027.0 556.6L1030.0 557.0L1033.0 556.9L1036.0 556.5L1039.0 555.6L1042.0 554.4L1045.0 552.8L1048.0 551.0L1051.0 549.0L1054.0 546.8L1057.0 544.5L1060.0 542.2L1063.0 540.0L1066.0 537.8L1069.0 535.9L1072.0 534.3L1075.0 532.9L1078.0 531.9L1081.0 531.2L1084.0 531.0L1087.0 531.2L1090.0 531.7L1093.0 532.7L1096.0 534.0L1099.0 535.6L1102.0 537.5L1105.0 539.6L1108.0 541.8L1111.0 544.1L1114.0 546.4L1117.0 548.6L1120.0 550.7L1123.0 552.6L1126.0 554.1L1129.0 555.4L1132.0 556.3L1135.0 556.9L1138.0 557.0L1141.0 556.7L1144.0 556.1L1147.0 555.0L1150.0 553.6L1153.0 552.0L1156.0 550.0L1159.0 547.9L1162.0 545.7L1165.0 543.4L1168.0 541.1L1171.0 539.0L1174.0 537.0L1177.0 535.2L1180.0 533.6L1183.0 532.4L1183.0 554.4L1180.0 555.6L1177.0 557.2L1174.0 559.0L1171.0 561.0L1168.0 563.1L1165.0 565.4L1162.0 567.7L1159.0 569.9L1156.0 572.0L1153.0 574.0L1150.0 575.6L1147.0 577.0L1144.0 578.1L1141.0 578.7L1138.0 579.0L1135.0 578.9L1132.0 578.3L1129.0 577.4L1126.0 576.1L1123.0 574.6L1120.0 572.7L1117.0 570.6L1114.0 568.4L1111.0 566.1L1108.0 563.8L1105.0 561.6L1102.0 559.5L1099.0 557.6L1096.0 556.0L1093.0 554.7L1090.0 553.7L1087.0 553.2L1084.0 553.0L1081.0 553.2L1078.0 553.9L1075.0 554.9L1072.0 556.3L1069.0 557.9L1066.0 559.8L1063.0 562.0L1060.0 564.2L1057.0 566.5L1054.0 568.8L1051.0 571.0L1048.0 573.0L1045.0 574.8L1042.0 576.4L1039.0 577.6L1036.0 578.5L1033.0 578.9L1030.0 579.0L1027.0 578.6L1024.0 577.9L1021.0 576.8L1018.0 575.3L1015.0 573.6L1012.0 571.6L1009.0 569.4L1006.0 567.2L1003.0 564.9L1000.0 562.6L997.0 560.5L994.0 558.5L991.0 556.8L988.0 555.3L985.0 554.2L982.0 553.4L979.0 553.0L976.0 553.1L973.0 553.5L970.0 554.3L967.0 555.5L964.0 557.0L961.0 558.7L958.0 560.7L955.0 562.9L952.0 565.1L949.0 567.4L946.0 569.6L943.0 571.8L940.0 573.7L937.0 575.4L934.0 576.8L931.0 577.9L928.0 578.6L925.0 579.0L922.0 578.9L919.0 578.5L916.0 577.7L913.0 576.5L910.0 575.0L907.0 573.3L904.0 571.3L901.0 569.2L898.0 567.0L895.0 564.8L892.0 562.6L889.0 560.5L886.0 558.6L883.0 556.8L880.0 555.4L877.0 554.3L874.0 553.5L871.0 553.1L868.0 553.0L865.0 553.4L862.0 554.1L859.0 555.1L856.0 556.5L853.0 558.1L850.0 560.0L847.0 562.0L844.0 564.2L841.0 566.4L838.0 568.5L835.0 570.6L832.0 572.6L829.0 574.4L826.0 575.9L823.0 577.2L820.0 578.2L817.0 578.8L814.0 579.0L811.0 578.9L808.0 578.4L805.0 577.6L802.0 576.4L799.0 575.0L796.0 573.3L793.0 571.4L790.0 569.4L787.0 567.3L784.0 565.1L781.0 563.0L778.0 560.9L775.0 559.0L772.0 557.3L769.0 555.9L766.0 554.7L763.0 553.8L760.0 553.2L757.0 553.0L754.0 553.1L751.0 553.6L748.0 554.4L745.0 555.6L742.0 556.9L739.0 558.6L736.0 560.4L733.0 562.4L730.0 564.5L727.0 566.6L724.0 568.7L721.0 570.7L718.0 572.6L715.0 574.3L712.0 575.8L709.0 577.0L706.0 578.0L703.0 578.6L700.0 579.0L697.0 578.9L694.0 578.6L691.0 577.9L688.0 576.9L685.0 575.7L682.0 574.2L679.0 572.5L676.0 570.6L673.0 568.6L670.0 566.6L667.0 564.5L664.0 562.5L661.0 560.5L658.0 558.7L655.0 557.1L652.0 555.7L649.0 554.6L646.0 553.8L643.0 553.2L640.0 553.0L637.0 553.1L634.0 553.5L631.0 554.3L628.0 555.3L625.0 556.6L622.0 558.1L619.0 559.9L616.0 561.7L613.0 563.7L610.0 565.8L607.0 567.8L604.0 569.8L601.0 571.7L598.0 573.4L595.0 575.0L592.0 576.4L589.0 577.5L586.0 578.3L583.0 578.8L580.0 579.0L577.0 578.9L574.0 578.4L571.0 577.7L568.0 576.7L565.0 575.4L562.0 573.9L559.0 572.2L556.0 570.3L553.0 568.4L550.0 566.4L547.0 564.3L544.0 562.3L541.0 560.4L538.0 558.7L535.0 557.1L532.0 555.7L529.0 554.6L526.0 553.8L523.0 553.2L520.0 553.0L517.0 553.1L514.0 553.5L511.0 554.2L508.0 555.2L505.0 556.5L502.0 557.9L499.0 559.6L496.0 561.5L493.0 563.4L490.0 565.4L487.0 567.5L484.0 569.5L481.0 571.4L478.0 573.2L475.0 574.8L472.0 576.2L469.0 577.3L466.0 578.2L463.0 578.7L460.0 579.0L457.0 578.9L454.0 578.5L451.0 577.8L448.0 576.8L445.0 575.6L442.0 574.1L439.0 572.4L436.0 570.5L433.0 568.5L430.0 566.5L427.0 564.5L424.0 562.4L421.0 560.5L418.0 558.7L415.0 557.1L412.0 555.7L409.0 554.6L406.0 553.7L403.0 553.2L400.0 553.0L397.0 553.1L394.0 553.6L391.0 554.3L388.0 555.4L385.0 556.7L382.0 558.3L379.0 560.1L376.0 562.0L373.0 564.0L370.0 566.1L367.0 568.2L364.0 570.2L361.0 572.1L358.0 573.9L355.0 575.4L352.0 576.8L349.0 577.8L346.0 578.5L343.0 578.9L340.0 579.0L337.0 578.7L334.0 578.1L331.0 577.1L328.0 575.9L325.0 574.4L322.0 572.7L319.0 570.8L316.0 568.8L313.0 566.6L310.0 564.5L307.0 562.4L304.0 560.4L301.0 558.6L298.0 556.9L295.0 555.5L292.0 554.4L289.0 553.6L286.0 553.1L283.0 553.0L280.0 553.2L277.0 553.8L274.0 554.8L271.0 556.0L268.0 557.5L265.0 559.3L262.0 561.2L259.0 563.3L256.0 565.4L253.0 567.6L250.0 569.8L247.0 571.8L244.0 573.6L241.0 575.3L238.0 576.7L235.0 577.8L232.0 578.5L229.0 578.9L226.0 579.0L223.0 578.6L220.0 577.9L217.0 576.9L214.0 575.5L211.0 573.9L208.0 572.0L205.0 570.0L202.0 567.8L199.0 565.6L196.0 563.4L193.0 561.3L190.0 559.3L187.0 557.5L184.0 555.9L181.0 554.7L178.0 553.7L175.0 553.2L172.0 553.0L169.0 553.2L166.0 553.8L163.0 554.7L160.0 556.0L157.0 557.6L154.0 559.5L151.0 561.5L148.0 563.7L145.0 565.9L142.0 568.2L139.0 570.3L136.0 572.4L133.0 574.3L130.0 575.9L127.0 577.2L124.0 578.2L121.0 578.8L118.0 579.0L115.0 578.8L112.0 578.2L109.0 577.3L106.0 576.0L103.0 574.4L100.0 572.5L97.0 570.5L94.0 568.3L91.0 566.0L88.0 563.7L85.0 561.5L82.0 559.5L79.0 557.6L76.0 556.0L73.0 554.7L70.0 553.7L67.0 553.2L64.0 553.0L61.0 553.2L58.0 553.9L55.0 554.9L52.0 556.3L49.0 557.9L46.0 559.8L43.0 561.9L40.0 564.2L37.0 566.5L34.0 568.8Z"/><path stroke="#74712f" stroke-width="1.6" fill="none" d="M36.0 529.0V595.6M40.6 523.7V595.2M45.2 528.3V594.9M49.8 526.8V598.9M54.4 524.6V597.8M59.0 519.7V596.2M63.6 520.8V597.0M68.2 525.0V595.6M72.8 527.3V597.3M77.4 523.6V596.0M82.0 521.3V596.5M86.6 530.2V595.7M91.2 526.0V595.9M95.8 526.9V597.4M100.4 524.4V594.1M105.0 523.7V598.5M109.6 524.3V597.7M114.2 523.7V594.0M118.8 526.0V597.2M123.4 523.5V596.2M128.0 525.7V595.9M132.6 525.8V596.5M137.2 519.1V596.5M141.8 523.5V595.5M146.4 525.9V596.0M151.0 526.3V598.4M155.6 525.3V594.5M160.2 523.1V598.1M164.8 524.3V595.6M169.4 524.7V597.5M174.0 525.6V597.7M178.6 522.9V596.4M183.2 524.3V596.7M187.8 519.8V596.4M192.4 521.6V598.8M197.0 528.8V599.3M201.6 527.0V596.1M206.2 527.3V596.5M210.8 526.5V595.4M215.4 523.5V597.5M220.0 529.3V596.7M224.6 530.5V600.9M229.2 521.8V596.7M233.8 522.6V596.6M238.4 523.6V596.7M243.0 527.3V598.2M247.6 525.6V596.8M252.2 525.3V597.0M256.8 526.4V596.8M261.4 526.2V594.8M266.0 526.9V599.4M270.6 525.4V594.7M275.2 528.3V596.3M279.8 517.6V596.5M284.4 526.5V597.3M289.0 528.0V597.7M293.6 525.3V593.8M298.2 522.2V597.0M302.8 526.6V595.3M307.4 523.5V597.5M312.0 520.2V593.9M316.6 524.4V597.2M321.2 523.8V593.4M325.8 525.0V594.8M330.4 526.6V596.6M335.0 525.6V597.7M339.6 523.7V598.0M344.2 528.0V597.4M348.8 528.3V595.9M353.4 527.2V597.2M358.0 522.5V596.7M362.6 523.7V596.0M367.2 525.2V598.4M371.8 524.2V597.0M376.4 521.3V596.9M381.0 527.8V598.0M385.6 526.1V596.0M390.2 522.6V596.6M394.8 521.7V595.0M399.4 527.3V595.4M404.0 529.4V594.7M408.6 526.0V595.0M413.2 525.4V595.2M417.8 525.1V596.6M422.4 523.9V597.5M427.0 528.7V595.9M431.6 527.2V596.9M436.2 524.9V600.0M440.8 519.6V595.8M445.4 520.5V596.3M450.0 524.4V602.4M454.6 525.8V599.5M459.2 528.2V596.1M463.8 526.2V599.3M468.4 525.4V597.1M473.0 526.2V594.5M477.6 523.0V597.3M482.2 526.3V595.4M486.8 524.2V596.6M491.4 524.6V597.8M496.0 525.2V597.0M500.6 521.5V595.2M505.2 525.8V594.4M509.8 525.6V595.8M514.4 523.0V597.7M519.0 523.3V595.5M523.6 523.3V596.9M528.2 531.8V593.6M532.8 524.9V596.4M537.4 527.3V596.2M542.0 518.8V598.7M546.6 522.2V596.7M551.2 521.6V595.1M555.8 523.7V598.0M560.4 527.0V595.9M565.0 526.2V596.2M569.6 525.2V597.0M574.2 526.5V595.8M578.8 524.6V597.1M583.4 511.2V595.6M588.0 515.2V596.1M592.6 526.8V597.1M597.2 528.0V602.5M601.8 530.0V596.4M606.4 521.9V597.0M611.0 530.5V597.5M615.6 521.9V596.1M620.2 528.2V594.7M624.8 524.5V596.3M629.4 530.3V596.3M634.0 528.2V595.7M638.6 522.9V598.3M643.2 526.5V594.2M647.8 526.5V597.7M652.4 523.4V597.1M657.0 525.6V596.0M661.6 523.5V595.8M666.2 524.2V594.8M670.8 524.8V594.5M675.4 525.1V596.6M680.0 522.3V598.0M684.6 529.7V598.7M689.2 521.5V598.6M693.8 525.5V596.7M698.4 523.4V596.7M703.0 528.4V597.6M707.6 523.9V595.8M712.2 523.9V597.6M716.8 529.5V595.2M721.4 524.9V596.2M726.0 523.0V597.3M730.6 526.3V594.6M735.2 522.3V598.5M739.8 525.7V597.5M744.4 523.7V596.2M749.0 526.1V596.0M753.6 522.2V596.7M758.2 527.2V595.2M762.8 527.5V597.8M767.4 522.8V596.8M772.0 524.8V597.7M776.6 526.6V594.8M781.2 521.6V598.3M785.8 525.2V597.4M790.4 525.7V599.0M795.0 521.9V598.4M799.6 522.9V597.8M804.2 528.2V594.7M808.8 525.9V596.3M813.4 524.2V596.8M818.0 522.3V595.3M822.6 526.5V598.0M827.2 523.5V594.6M831.8 530.6V598.4M836.4 525.8V595.2M841.0 523.5V597.1M845.6 522.5V599.1M850.2 525.3V597.3M854.8 522.4V595.4M859.4 523.0V597.2M864.0 524.3V596.3M868.6 525.7V597.1M873.2 528.6V596.5M877.8 522.4V596.7M882.4 528.5V595.9M887.0 525.0V596.2M891.6 525.9V597.1M896.2 522.9V596.4M900.8 527.2V598.4M905.4 527.2V598.0M910.0 524.1V596.2M914.6 527.2V595.0M919.2 524.8V594.0M923.8 524.0V595.7M928.4 522.0V597.6M933.0 523.1V596.2M937.6 524.3V595.7M942.2 528.4V596.0M946.8 525.4V594.8M951.4 523.8V596.3M956.0 524.2V595.9M960.6 525.3V599.0M965.2 524.6V596.5M969.8 524.0V600.5M974.4 528.9V597.6M979.0 526.6V595.7M983.6 524.5V597.1M988.2 525.2V595.5M992.8 523.0V597.5M997.4 525.7V593.7M1002.0 525.1V598.6M1006.6 523.3V597.1M1011.2 521.4V598.0M1015.8 522.2V594.9M1020.4 524.1V600.2M1025.0 523.4V594.9M1029.6 526.1V597.1M1034.2 529.0V594.9M1038.8 521.0V596.3M1043.4 525.9V597.3M1048.0 527.6V594.6M1052.6 522.9V596.6M1057.2 527.0V597.5M1061.8 523.9V595.3M1066.4 527.1V598.2M1071.0 531.6V596.5M1075.6 528.9V595.0M1080.2 523.6V595.8M1084.8 523.8V595.5M1089.4 523.6V596.7M1094.0 523.8V597.7M1098.6 524.7V596.8M1103.2 528.5V597.2M1107.8 525.3V596.7M1112.4 525.1V597.6M1117.0 523.0V598.4M1121.6 528.8V598.5M1126.2 523.7V594.4M1130.8 523.9V597.0M1135.4 527.0V596.5M1140.0 524.2V599.0M1144.6 523.3V598.3M1149.2 527.1V594.8M1153.8 525.6V595.9M1158.4 522.6V594.0M1163.0 521.1V597.4M1167.6 524.0V597.2M1172.2 522.3V596.3M1176.8 524.3V594.5M1181.4 520.9V597.4"/><path fill="#6c6a04" d="M608.5 617.5L612.5 624L604.5 624Z"/><text x="21.5" y="101.5" font-family="Liberation Sans" font-size="7.5" fill="#8e3c4a" fill-opacity="0.8">M2</text><line x1="25" y1="105" x2="34" y2="105" stroke="#8e3c4a" stroke-width="1.5"/><text x="21.5" y="337.8" font-family="Liberation Sans" font-size="7.5" fill="#7a7ad0" fill-opacity="0.8">M3</text><line x1="25" y1="341.3" x2="34" y2="341.3" stroke="#7a7ad0" stroke-width="1.5"/><text x="21.5" y="451.7" font-family="Liberation Sans" font-size="7.5" fill="#6a6830" fill-opacity="0.8">M1</text><line x1="25" y1="455.2" x2="34" y2="455.2" stroke="#6a6830" stroke-width="1.5"/><text x="21.5" y="472.5" font-family="Liberation Sans" font-size="7.5" fill="#9a2030" fill-opacity="0.8">M6</text><line x1="25" y1="476" x2="34" y2="476" stroke="#9a2030" stroke-width="1.5"/><text x="21.5" y="534.1" font-family="Liberation Sans" font-size="7.5" fill="#3f7f88" fill-opacity="0.8">M4</text><line x1="25" y1="537.6" x2="34" y2="537.6" stroke="#3f7f88" stroke-width="1.5"/><text x="21.5" y="558.1" font-family="Liberation Sans" font-size="7.5" fill="#6a6838" fill-opacity="0.8">M5</text><line x1="25" y1="561.6" x2="34" y2="561.6" stroke="#6a6838" stroke-width="1.5"/><g fill="#1c1c1c">
<path d="M1021.9 33.5L1036.5 33.5L1027.2 43.8L1012.6 43.8Z"/>
<path d="M1041.2 33.5L1054.6 33.5L1064.5 43.8L1050.5 43.8Z"/>
<path d="M1027.8 44.9L1037.1 36.6L1037.1 50.2L1027.8 58.9Z"/>
<path d="M1049.4 44.9L1040 36.6L1040 50.2L1049.4 58.9Z"/>
</g>
<text x="1070" y="43.8" font-family="Liberation Sans" font-weight="bold" font-size="13.4" fill="#1e1e1e" textLength="61" lengthAdjust="spacingAndGlyphs">TELEDYNE</text>
<text x="1135.5" y="43.8" font-family="Liberation Sans" font-size="13.4" fill="#3a3a3a" textLength="42.5" lengthAdjust="spacingAndGlyphs">LECROY</text>
<text x="1070" y="55.5" font-family="Liberation Sans" font-size="11" fill="#6a6a6a" textLength="101" lengthAdjust="spacingAndGlyphs">Everywhere<tspan font-weight="bold" fill="#1e1e1e">you</tspan>look</text>
<text x="1172" y="50" font-family="Liberation Sans" font-size="5" fill="#777">TM</text></svg>
<svg width="1199" height="692" style="position:absolute;left:0;top:0;will-change:transform"><text x="811.50" y="170.50" font-family="Liberation Serif" font-size="36" fill="#000" textLength="44.55" lengthAdjust="spacingAndGlyphs"><tspan font-style="italic">v</tspan><tspan font-style="italic" font-size="28.80" dy="7.50">ac</tspan></text><text x="867.00" y="170.50" font-family="Liberation Serif" font-size="36" fill="#000" textLength="142.19" lengthAdjust="spacingAndGlyphs"><tspan>[1kV/</tspan><tspan font-style="italic">div</tspan><tspan>]</tspan></text><text x="178.00" y="232.50" font-family="Liberation Serif" font-size="36" fill="#000" textLength="32.09" lengthAdjust="spacingAndGlyphs"><tspan font-style="italic">v</tspan><tspan font-style="italic" font-size="28.80" dy="7.50">g</tspan></text><text x="220.50" y="232.50" font-family="Liberation Serif" font-size="36" fill="#000" textLength="142.71" lengthAdjust="spacingAndGlyphs"><tspan>[2kV/</tspan><tspan font-style="italic">div</tspan><tspan>]</tspan></text><text x="185.50" y="305.00" font-family="Liberation Serif" font-size="36" fill="#000" textLength="26.50" lengthAdjust="spacingAndGlyphs"><tspan font-style="italic">i</tspan><tspan font-style="italic" font-size="28.80" dy="7.00">o</tspan></text><text x="221.50" y="305.00" font-family="Liberation Serif" font-size="36" fill="#000" textLength="127.26" lengthAdjust="spacingAndGlyphs"><tspan>[2A/</tspan><tspan font-style="italic">div</tspan><tspan>]</tspan></text><text x="195.00" y="429.70" font-family="Liberation Serif" font-size="36" fill="#000" textLength="36.75" lengthAdjust="spacingAndGlyphs"><tspan font-style="italic">i</tspan><tspan font-style="italic" font-size="28.80" dy="7.00">in</tspan></text><text x="250.00" y="429.70" font-family="Liberation Serif" font-size="36" fill="#000" textLength="157.69" lengthAdjust="spacingAndGlyphs"><tspan>[100A/</tspan><tspan font-style="italic">div</tspan><tspan>]</tspan></text><text x="1019.00" y="439.30" font-family="Liberation Serif" font-size="36" fill="#000" textLength="158.17" lengthAdjust="spacingAndGlyphs"><tspan>[50ms/</tspan><tspan font-style="italic">div</tspan><tspan>]</tspan></text><text x="205.50" y="480.30" font-family="Liberation Serif" font-size="36" fill="#000" textLength="46.10" lengthAdjust="spacingAndGlyphs"><tspan font-style="italic">v</tspan><tspan font-style="italic" font-size="28.80" dy="8.00">in</tspan></text><text x="259.50" y="480.30" font-family="Liberation Serif" font-size="36" fill="#000" textLength="117.24" lengthAdjust="spacingAndGlyphs"><tspan>[1k/</tspan><tspan font-style="italic">div</tspan><tspan>]</tspan></text><text x="904.50" y="513.00" font-family="Liberation Serif" font-size="36" fill="#000" textLength="49.11" lengthAdjust="spacingAndGlyphs"><tspan font-style="italic">i</tspan><tspan font-style="italic" font-size="28.80" dy="7.30">Llk</tspan></text><text x="964.00" y="513.00" font-family="Liberation Serif" font-size="36" fill="#000" textLength="142.19" lengthAdjust="spacingAndGlyphs"><tspan>[50A/</tspan><tspan font-style="italic">div</tspan><tspan>]</tspan></text><text x="424.00" y="668.60" font-family="Liberation Serif" font-size="36.5" fill="#000" textLength="44.16" lengthAdjust="spacingAndGlyphs"><tspan>(</tspan><tspan font-weight="bold">b</tspan><tspan>)</tspan></text><text x="479.50" y="668.60" font-family="Liberation Serif" font-size="36.5" fill="#000" textLength="316.03" lengthAdjust="spacingAndGlyphs"><tspan>Detail&#160;of&#160;the&#160;process</tspan></text></svg>
</body></html>
